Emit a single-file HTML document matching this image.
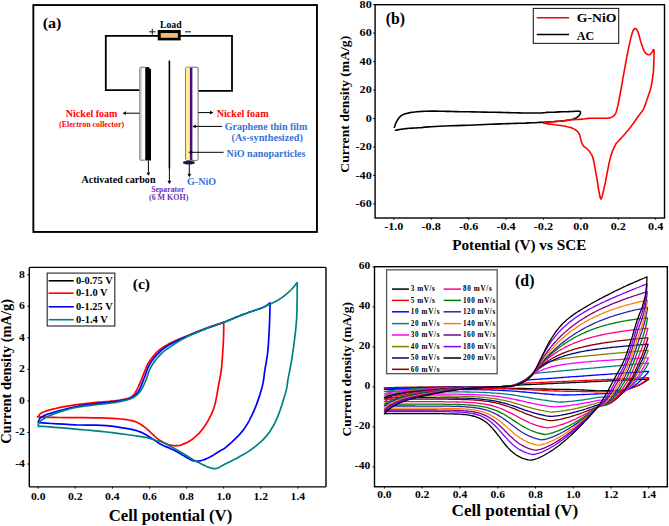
<!DOCTYPE html>
<html><head><meta charset="utf-8"><style>
html,body{margin:0;padding:0;background:#fff;}
svg{display:block;}
text{font-family:"Liberation Serif",serif;font-weight:bold;}
</style></head><body>
<svg width="669" height="526" viewBox="0 0 669 526">
<rect width="669" height="526" fill="#fff"/>
<rect x="33.35" y="5.05" width="283.6" height="226.9" fill="none" stroke="#000" stroke-width="1.9"/>
<text x="42.7" y="27.5" font-size="15.3" fill="#000" textLength="18.8" lengthAdjust="spacingAndGlyphs">(a)</text>
<path d="M139.5,90.1 H105.8 V35.9 H232 V90.8 H198.3" fill="none" stroke="#000" stroke-width="1.8"/>
<rect x="157.7" y="30.0" width="23.0" height="10.4" fill="#000"/>
<rect x="160.7" y="33.0" width="17.2" height="4.8" fill="#f7b677"/>
<text x="160.0" y="28.1" font-size="10" fill="#000" textLength="21.6" lengthAdjust="spacingAndGlyphs">Load</text>
<line x1="149.1" y1="31.8" x2="155.5" y2="31.8" stroke="#222" stroke-width="1.1"/>
<line x1="152.3" y1="28.8" x2="152.3" y2="34.8" stroke="#222" stroke-width="1.1"/>
<line x1="185.0" y1="31.8" x2="191.0" y2="31.8" stroke="#222" stroke-width="1.1"/>
<rect x="139.8" y="67.2" width="5.8" height="93.0" fill="#fff" stroke="#707070" stroke-width="1" rx="1.2"/>
<rect x="140.3" y="67.7" width="1.3" height="92.0" fill="#b8b8b8"/>
<polygon points="145.5,66.9 148.3,66.9 151.0,69.6 151.0,160.6 145.5,160.6" fill="#000"/>
<line x1="169.4" y1="60.6" x2="169.4" y2="168.3" stroke="#000" stroke-width="1.6"/>
<line x1="169.4" y1="168" x2="169.4" y2="180.79999999999998" stroke="#000" stroke-width="1.0"/>
<polygon points="169.4,184.2 167.50,180.80 171.30,180.80" fill="#000"/>
<rect x="185.6" y="67.2" width="12.5" height="93.2" fill="#fff" stroke="#707070" stroke-width="1" rx="1.2"/>
<rect x="186.1" y="67.7" width="3.8" height="92.3" fill="#fff08a"/>
<rect x="189.9" y="67.7" width="2.5" height="92.3" fill="#4a0b8f"/>
<polygon points="196.5,66.7 198.6,69.2 198.6,70 196.5,67.7" fill="#888"/>
<ellipse cx="188.9" cy="162.7" rx="6" ry="1.9" fill="#0c1c3a"/>
<line x1="139.4" y1="113.2" x2="126.0" y2="113.2" stroke="#000" stroke-width="1.0"/>
<polygon points="122.6,113.2 126.00,111.30 126.00,115.10" fill="#000"/>
<line x1="148.4" y1="160.6" x2="148.4" y2="172.4" stroke="#000" stroke-width="1.0"/>
<polygon points="148.4,175.8 146.50,172.40 150.30,172.40" fill="#000"/>
<line x1="189.3" y1="164.4" x2="189.3" y2="173.79999999999998" stroke="#000" stroke-width="1.0"/>
<polygon points="189.3,177.2 187.40,173.80 191.20,173.80" fill="#000"/>
<line x1="198.3" y1="112.6" x2="210.0" y2="112.6" stroke="#000" stroke-width="1.0"/>
<polygon points="213.4,112.6 210.00,114.50 210.00,110.70" fill="#000"/>
<line x1="222.2" y1="126.4" x2="195.8" y2="126.4" stroke="#000" stroke-width="1.0"/>
<polygon points="192.4,126.4 195.80,124.50 195.80,128.30" fill="#000"/>
<line x1="223.6" y1="152.3" x2="191.8" y2="152.3" stroke="#000" stroke-width="1.0"/>
<polygon points="188.4,152.3 191.80,150.40 191.80,154.20" fill="#000"/>
<text x="65.8" y="116.9" font-size="11" fill="#ff0000" textLength="51.7" lengthAdjust="spacingAndGlyphs">Nickel foam</text>
<text x="59.1" y="127.1" font-size="8" fill="#ff0000" textLength="65.0" lengthAdjust="spacingAndGlyphs">(Electron collector)</text>
<text x="81.4" y="183.2" font-size="10.5" fill="#000" textLength="74.1" lengthAdjust="spacingAndGlyphs">Activated carbon</text>
<text x="151.3" y="192.0" font-size="7.5" fill="#7330b8" textLength="33.1" lengthAdjust="spacingAndGlyphs">Separator</text>
<text x="149.0" y="200.2" font-size="7.8" fill="#7330b8" textLength="39.3" lengthAdjust="spacingAndGlyphs">(6 M KOH)</text>
<text x="187.0" y="185.1" font-size="11" fill="#3772d6" textLength="29.1" lengthAdjust="spacingAndGlyphs">G-NiO</text>
<text x="216.7" y="116.8" font-size="11" fill="#ff0000" textLength="51.9" lengthAdjust="spacingAndGlyphs">Nickel foam</text>
<text x="224.7" y="130.2" font-size="10.5" fill="#3772d6" textLength="82.6" lengthAdjust="spacingAndGlyphs">Graphene thin film</text>
<text x="231.5" y="141.2" font-size="10.5" fill="#3772d6" textLength="71.3" lengthAdjust="spacingAndGlyphs">(As-synthesized)</text>
<text x="226.6" y="156.5" font-size="10.5" fill="#3772d6" textLength="78.9" lengthAdjust="spacingAndGlyphs">NiO nanoparticles</text>
<path d="M394.4,127.3 L394.5,126.8 L394.8,126.1 L395.1,125.2 L395.4,124.2 L395.8,123.3 L396.2,122.3 L396.7,121.4 L397.3,120.4 L397.9,119.4 L398.5,118.5 L399.2,117.6 L400.0,116.8 L400.7,116.1 L401.4,115.6 L402.2,115.1 L403.1,114.6 L404.1,114.2 L405.2,113.8 L406.6,113.4 L408.1,113.1 L409.7,112.7 L411.4,112.4 L413.2,112.2 L414.9,112.0 L416.8,111.8 L418.7,111.6 L420.6,111.5 L422.5,111.4 L424.4,111.3 L426.2,111.2 L427.7,111.2 L429.2,111.1 L430.6,111.1 L431.9,111.1 L433.4,111.1 L435.0,111.1 L436.6,111.1 L438.1,111.2 L439.7,111.2 L441.5,111.3 L443.6,111.3 L446.2,111.4 L449.2,111.4 L452.5,111.5 L456.1,111.6 L460.1,111.7 L464.2,111.7 L468.6,111.8 L473.5,111.9 L478.8,112.0 L484.4,112.1 L489.9,112.2 L495.2,112.3 L500.1,112.4 L504.3,112.5 L508.3,112.6 L512.0,112.7 L515.6,112.8 L519.0,112.9 L522.3,113.0 L525.6,113.0 L528.9,113.0 L532.0,113.0 L535.0,113.0 L537.7,113.0 L540.1,113.0 L542.0,112.9 L543.3,112.8 L544.4,112.7 L545.6,112.5 L547.0,112.4 L549.1,112.3 L551.9,112.2 L555.3,112.1 L559.0,111.9 L562.7,111.8 L566.2,111.7 L569.1,111.6 L571.4,111.5 L573.5,111.4 L575.3,111.2 L576.8,111.2 L578.1,111.1 L579.2,111.2 L579.9,111.4 L580.3,111.6 L580.5,112.0 L580.5,112.4 L580.4,112.7 L580.4,113.1 L580.4,113.4 L580.2,113.8 L580.0,114.2 L579.8,114.5 L579.5,114.9 L579.2,115.3 L578.9,115.7 L578.5,116.1 L578.1,116.5 L577.7,116.9 L577.2,117.2 L576.6,117.6 L575.9,118.0 L575.2,118.3 L574.3,118.7 L573.4,119.0 L572.4,119.3 L571.3,119.6 L570.1,119.9 L568.7,120.1 L567.2,120.3 L565.6,120.5 L564.0,120.7 L562.4,120.9 L560.6,121.1 L558.8,121.2 L556.9,121.4 L554.9,121.5 L553.0,121.7 L551.1,121.8 L549.4,121.9 L547.7,122.0 L546.0,122.1 L544.3,122.2 L542.3,122.3 L540.1,122.4 L537.6,122.5 L534.8,122.7 L531.9,122.8 L528.8,122.9 L525.6,123.1 L522.3,123.2 L519.0,123.3 L515.6,123.4 L512.0,123.5 L508.3,123.6 L504.3,123.8 L500.1,123.9 L495.4,124.1 L490.3,124.3 L485.1,124.5 L479.6,124.7 L474.1,125.0 L468.6,125.2 L462.9,125.4 L456.9,125.6 L450.8,125.8 L445.0,126.0 L439.6,126.3 L435.0,126.5 L431.2,126.7 L428.1,126.9 L425.4,127.1 L423.1,127.4 L420.9,127.6 L418.7,127.7 L416.5,127.9 L414.4,128.0 L412.5,128.1 L410.7,128.2 L409.1,128.3 L407.5,128.5 L406.0,128.6 L404.6,128.8 L403.3,129.0 L402.1,129.1 L401.0,129.3 L400.0,129.5 L399.0,129.6 L398.1,129.8 L397.3,129.9 L396.5,130.1 L395.9,130.2 L395.5,130.3" fill="none" stroke="#000" stroke-width="1.6" stroke-linejoin="round" stroke-linecap="round"/>
<path d="M543.5,123.2 L544.2,123.1 L545.3,122.9 L546.6,122.6 L548.0,122.4 L549.6,122.1 L551.1,121.9 L552.8,121.7 L554.7,121.6 L556.7,121.4 L558.6,121.3 L560.6,121.2 L562.4,121.0 L564.0,120.8 L565.5,120.6 L567.0,120.4 L568.4,120.1 L569.9,119.9 L571.3,119.8 L572.8,119.7 L574.3,119.6 L575.8,119.5 L577.3,119.5 L578.9,119.4 L580.4,119.3 L582.0,119.1 L583.6,119.0 L585.2,118.8 L586.8,118.6 L588.4,118.4 L590.0,118.3 L591.7,118.2 L593.3,118.2 L594.9,118.2 L596.6,118.2 L598.1,118.2 L599.6,118.2 L601.0,118.2 L602.3,118.3 L603.6,118.3 L604.8,118.3 L606.0,118.3 L607.1,118.2 L608.1,118.1 L609.0,118.0 L609.9,117.8 L610.8,117.6 L611.5,117.3 L612.3,116.9 L613.0,116.5 L613.6,116.0 L614.3,115.4 L614.8,114.7 L615.3,113.8 L615.9,112.8 L616.3,111.6 L616.7,110.3 L617.1,108.9 L617.5,107.3 L617.9,105.6 L618.3,103.7 L618.7,101.7 L619.1,99.7 L619.5,97.5 L619.9,95.1 L620.4,92.5 L620.9,89.8 L621.5,86.7 L622.1,83.3 L622.7,79.7 L623.3,76.1 L624.0,72.4 L624.6,68.8 L625.3,65.3 L625.9,61.7 L626.6,58.1 L627.3,54.6 L627.9,51.2 L628.6,48.1 L629.2,45.1 L629.9,42.2 L630.5,39.4 L631.1,36.9 L631.7,34.7 L632.3,32.8 L632.8,31.4 L633.3,30.3 L633.8,29.5 L634.2,29.0 L634.7,28.7 L635.1,28.6 L635.6,28.6 L636.0,28.8 L636.5,29.3 L637.0,29.9 L637.4,30.8 L637.9,31.8 L638.4,33.2 L638.9,34.8 L639.4,36.6 L639.9,38.6 L640.4,40.5 L640.9,42.2 L641.5,43.9 L642.1,45.7 L642.7,47.5 L643.4,49.1 L644.0,50.6 L644.7,51.8 L645.3,52.7 L645.9,53.4 L646.6,53.9 L647.2,54.3 L647.8,54.6 L648.4,54.7 L648.9,54.8 L649.4,54.7 L649.9,54.5 L650.3,54.1 L650.8,53.7 L651.2,53.3 L651.7,52.7 L652.2,51.9 L652.7,51.0 L653.1,50.3 L653.5,49.7 L653.8,49.6 L654.0,50.0 L654.1,50.8 L654.1,51.8 L654.1,52.9 L654.0,54.1 L654.0,55.2 L654.0,56.1 L654.0,57.0 L654.0,57.9 L653.9,58.8 L653.9,60.0 L653.8,61.3 L653.8,62.9 L653.7,64.6 L653.7,66.5 L653.6,68.5 L653.5,70.6 L653.3,72.7 L653.0,74.8 L652.7,77.1 L652.4,79.5 L652.0,81.8 L651.6,84.0 L651.2,86.1 L650.8,87.8 L650.4,89.3 L650.0,90.7 L649.5,92.2 L649.0,93.7 L648.4,95.4 L647.7,97.6 L646.9,100.0 L646.0,102.5 L645.2,104.9 L644.3,107.1 L643.5,109.0 L642.9,110.2 L642.5,110.9 L642.1,111.5 L641.6,112.0 L640.9,112.8 L639.8,114.2 L638.3,116.3 L636.5,118.8 L634.5,121.7 L632.4,124.6 L630.3,127.4 L628.4,129.9 L626.5,132.1 L624.7,134.3 L622.8,136.3 L621.1,138.2 L619.5,139.9 L618.3,141.3 L617.4,142.2 L616.8,142.8 L616.5,143.1 L616.2,143.4 L615.9,143.9 L615.5,144.7 L614.9,145.8 L614.3,147.1 L613.6,148.6 L612.9,150.2 L612.3,151.8 L611.7,153.4 L611.2,154.8 L610.8,156.2 L610.4,157.6 L610.0,159.1 L609.6,160.9 L609.1,163.0 L608.6,165.7 L608.0,168.7 L607.3,172.0 L606.7,175.3 L606.1,178.5 L605.6,181.3 L605.1,183.7 L604.6,185.9 L604.2,188.0 L603.7,189.9 L603.3,191.6 L602.9,193.2 L602.6,194.7 L602.2,196.1 L601.9,197.3 L601.5,198.2 L601.2,198.9 L600.9,199.0 L600.6,198.8 L600.3,198.1 L600.1,197.1 L599.8,195.8 L599.5,194.3 L599.2,192.5 L598.8,190.4 L598.4,188.0 L598.0,185.3 L597.6,182.5 L597.1,179.6 L596.6,176.7 L596.0,173.6 L595.4,170.3 L594.8,166.9 L594.2,163.6 L593.6,160.7 L593.0,158.3 L592.5,156.6 L592.0,155.4 L591.6,154.6 L591.1,153.9 L590.7,153.3 L590.2,152.7 L589.8,151.9 L589.3,151.3 L588.9,150.8 L588.4,150.3 L587.9,149.8 L587.4,149.2 L586.8,148.7 L586.2,148.2 L585.5,147.7 L584.8,147.2 L584.2,146.6 L583.7,146.1 L583.2,145.6 L582.8,145.0 L582.5,144.4 L582.2,143.8 L581.9,143.2 L581.6,142.5 L581.4,141.8 L581.1,141.0 L580.9,140.1 L580.7,139.3 L580.5,138.4 L580.3,137.7 L580.2,137.1 L580.1,136.5 L580.0,136.0 L580.0,135.5 L579.8,135.0 L579.6,134.4 L579.2,133.8 L578.8,133.2 L578.3,132.5 L577.8,131.8 L577.2,131.2 L576.6,130.6 L575.9,130.1 L575.1,129.5 L574.3,129.1 L573.4,128.6 L572.4,128.2 L571.3,127.7 L570.1,127.4 L568.7,127.0 L567.2,126.7 L565.6,126.3 L564.0,126.0 L562.4,125.8 L560.6,125.5 L558.6,125.2 L556.7,125.0 L554.7,124.8 L552.8,124.5 L551.1,124.3 L549.6,124.1 L548.0,123.9 L546.6,123.7 L545.3,123.5 L544.2,123.3 L543.5,123.2" fill="none" stroke="#ff0000" stroke-width="1.6" stroke-linejoin="round" stroke-linecap="round"/>
<rect x="375.1" y="4.7" width="289.4" height="213.3" fill="none" stroke="#000" stroke-width="1.4"/>
<line x1="373.2" y1="4.659999999999997" x2="375.1" y2="4.659999999999997" stroke="#000" stroke-width="1"/>
<text x="371.8" y="7.96" font-size="10.5" fill="#000" text-anchor="end" textLength="12.18" lengthAdjust="spacingAndGlyphs">80</text>
<line x1="373.2" y1="33.120000000000005" x2="375.1" y2="33.120000000000005" stroke="#000" stroke-width="1"/>
<text x="371.8" y="36.42" font-size="10.5" fill="#000" text-anchor="end" textLength="12.18" lengthAdjust="spacingAndGlyphs">60</text>
<line x1="373.2" y1="61.58" x2="375.1" y2="61.58" stroke="#000" stroke-width="1"/>
<text x="371.8" y="64.88" font-size="10.5" fill="#000" text-anchor="end" textLength="12.18" lengthAdjust="spacingAndGlyphs">40</text>
<line x1="373.2" y1="90.03999999999999" x2="375.1" y2="90.03999999999999" stroke="#000" stroke-width="1"/>
<text x="371.8" y="93.34" font-size="10.5" fill="#000" text-anchor="end" textLength="12.18" lengthAdjust="spacingAndGlyphs">20</text>
<line x1="373.2" y1="118.5" x2="375.1" y2="118.5" stroke="#000" stroke-width="1"/>
<text x="371.8" y="121.8" font-size="10.5" fill="#000" text-anchor="end" textLength="6.09" lengthAdjust="spacingAndGlyphs">0</text>
<line x1="373.2" y1="146.96" x2="375.1" y2="146.96" stroke="#000" stroke-width="1"/>
<text x="371.8" y="150.26" font-size="10.5" fill="#000" text-anchor="end" textLength="16.24" lengthAdjust="spacingAndGlyphs">-20</text>
<line x1="373.2" y1="175.42000000000002" x2="375.1" y2="175.42000000000002" stroke="#000" stroke-width="1"/>
<text x="371.8" y="178.72" font-size="10.5" fill="#000" text-anchor="end" textLength="16.24" lengthAdjust="spacingAndGlyphs">-40</text>
<line x1="373.2" y1="203.88" x2="375.1" y2="203.88" stroke="#000" stroke-width="1"/>
<text x="371.8" y="207.18" font-size="10.5" fill="#000" text-anchor="end" textLength="16.24" lengthAdjust="spacingAndGlyphs">-60</text>
<line x1="393.8" y1="218.0" x2="393.8" y2="219.7" stroke="#000" stroke-width="1"/>
<text x="393.8" y="229.9" font-size="10.5" fill="#000" text-anchor="middle" textLength="19.28" lengthAdjust="spacingAndGlyphs">-1.0</text>
<line x1="431.214" y1="218.0" x2="431.214" y2="219.7" stroke="#000" stroke-width="1"/>
<text x="431.21" y="229.9" font-size="10.5" fill="#000" text-anchor="middle" textLength="19.28" lengthAdjust="spacingAndGlyphs">-0.8</text>
<line x1="468.62800000000004" y1="218.0" x2="468.62800000000004" y2="219.7" stroke="#000" stroke-width="1"/>
<text x="468.63" y="229.9" font-size="10.5" fill="#000" text-anchor="middle" textLength="19.28" lengthAdjust="spacingAndGlyphs">-0.6</text>
<line x1="506.04200000000003" y1="218.0" x2="506.04200000000003" y2="219.7" stroke="#000" stroke-width="1"/>
<text x="506.04" y="229.9" font-size="10.5" fill="#000" text-anchor="middle" textLength="19.28" lengthAdjust="spacingAndGlyphs">-0.4</text>
<line x1="543.456" y1="218.0" x2="543.456" y2="219.7" stroke="#000" stroke-width="1"/>
<text x="543.46" y="229.9" font-size="10.5" fill="#000" text-anchor="middle" textLength="19.28" lengthAdjust="spacingAndGlyphs">-0.2</text>
<line x1="580.87" y1="218.0" x2="580.87" y2="219.7" stroke="#000" stroke-width="1"/>
<text x="580.87" y="229.9" font-size="10.5" fill="#000" text-anchor="middle" textLength="15.22" lengthAdjust="spacingAndGlyphs">0.0</text>
<line x1="618.2840000000001" y1="218.0" x2="618.2840000000001" y2="219.7" stroke="#000" stroke-width="1"/>
<text x="618.28" y="229.9" font-size="10.5" fill="#000" text-anchor="middle" textLength="15.22" lengthAdjust="spacingAndGlyphs">0.2</text>
<line x1="655.6980000000001" y1="218.0" x2="655.6980000000001" y2="219.7" stroke="#000" stroke-width="1"/>
<text x="655.7" y="229.9" font-size="10.5" fill="#000" text-anchor="middle" textLength="15.22" lengthAdjust="spacingAndGlyphs">0.4</text>
<text x="452.2" y="250.0" font-size="14" fill="#000" textLength="134.2" lengthAdjust="spacingAndGlyphs">Potential (V) vs SCE</text>
<text transform="translate(349.4,172.7) rotate(-90)" font-size="13.5" fill="#000" textLength="136.9" lengthAdjust="spacingAndGlyphs">Current density (mA/g)</text>
<text x="385.7" y="24.2" font-size="16.4" fill="#000" textLength="19.3" lengthAdjust="spacingAndGlyphs">(b)</text>
<rect x="533.3" y="8.4" width="85.4" height="35.0" fill="#fff" stroke="#222" stroke-width="1.1"/>
<line x1="536.7" y1="17.8" x2="569" y2="17.8" stroke="#ff0000" stroke-width="1.5"/>
<line x1="536.7" y1="34.5" x2="569" y2="34.5" stroke="#000" stroke-width="1.5"/>
<text x="576.8" y="22.3" font-size="13" fill="#000" textLength="39.6" lengthAdjust="spacingAndGlyphs">G-NiO</text>
<text x="576.8" y="39.6" font-size="13" fill="#000" textLength="17.4" lengthAdjust="spacingAndGlyphs">AC</text>
<path d="M38.2,416.7 L38.5,416.2 L38.8,415.7 L39.2,415.0 L39.8,414.2 L40.7,413.5 L41.9,412.7 L43.5,412.0 L45.3,411.3 L47.3,410.6 L49.7,409.9 L52.4,409.2 L55.5,408.5 L59.0,407.7 L63.0,406.9 L67.4,406.2 L72.0,405.4 L76.5,404.7 L80.9,404.1 L85.2,403.5 L89.8,403.0 L94.3,402.6 L98.7,402.2 L102.7,401.9 L106.3,401.5 L109.2,401.3 L111.7,401.0 L113.9,400.9 L115.9,400.7 L117.8,400.4 L119.8,400.1 L121.9,399.7 L124.0,399.4 L126.1,398.9 L128.0,398.4 L129.8,397.8 L131.3,397.0 L132.6,396.0 L133.7,395.0 L134.6,393.8 L135.4,392.5 L136.2,391.0 L137.1,389.4 L138.0,387.5 L139.0,385.4 L139.9,383.1 L140.9,380.8 L141.9,378.4 L142.8,376.1 L143.7,373.9 L144.6,371.6 L145.5,369.3 L146.4,367.1 L147.4,364.9 L148.6,362.7 L149.9,360.7 L151.4,358.6 L153.0,356.6 L154.6,354.7 L156.3,352.9 L158.0,351.2 L159.7,349.7 L161.4,348.4 L163.2,347.2 L165.1,346.0 L167.1,344.9 L169.3,343.6 L171.9,342.4 L174.6,341.1 L177.5,339.9 L180.5,338.6 L183.6,337.3 L186.6,336.1 L189.7,334.8 L192.8,333.5 L196.0,332.2 L199.2,330.9 L202.4,329.7 L205.5,328.5 L208.8,327.3 L212.3,326.1 L215.8,324.9 L219.0,323.9 L221.7,323.0 L223.7,322.3 L223.7,323.9 L223.7,325.9 L223.7,328.4 L223.7,331.2 L223.6,334.4 L223.5,338.0 L223.3,342.1 L223.1,346.9 L222.7,352.1 L222.4,357.4 L222.0,362.3 L221.7,366.5 L221.3,369.9 L220.9,372.8 L220.5,375.3 L220.0,377.7 L219.5,380.4 L218.9,383.5 L218.2,387.3 L217.5,391.4 L216.8,395.7 L215.9,400.1 L215.0,404.2 L213.9,408.0 L212.6,411.4 L211.2,414.7 L209.7,417.7 L208.1,420.6 L206.5,423.4 L204.8,426.0 L203.0,428.4 L201.2,430.7 L199.4,432.9 L197.4,434.8 L195.5,436.6 L193.6,438.3 L191.7,439.7 L189.6,441.0 L187.6,442.2 L185.6,443.1 L183.8,443.9 L182.3,444.6 L181.2,445.1 L180.4,445.3 L179.8,445.5 L179.3,445.5 L178.8,445.5 L178.3,445.5 L177.6,445.6 L177.1,445.7 L176.5,445.7 L175.9,445.8 L175.3,445.7 L174.5,445.7 L173.7,445.6 L172.8,445.5 L171.8,445.4 L170.8,445.2 L169.9,445.0 L169.0,444.8 L168.2,444.5 L167.5,444.3 L166.9,444.0 L166.2,443.7 L165.4,443.3 L164.5,442.9 L163.5,442.4 L162.5,441.8 L161.3,441.3 L160.1,440.5 L158.7,439.6 L157.1,438.4 L155.3,436.9 L153.2,434.9 L151.0,432.8 L148.8,430.6 L146.5,428.6 L144.3,426.9 L142.3,425.5 L140.6,424.3 L138.8,423.2 L136.8,422.2 L134.5,421.4 L131.7,420.6 L128.4,420.0 L124.8,419.4 L120.8,419.0 L116.5,418.6 L111.6,418.4 L106.3,418.1 L100.0,417.9 L92.8,417.8 L85.0,417.7 L77.3,417.7 L70.2,417.7 L64.0,417.6 L58.7,417.5 L53.8,417.4 L49.5,417.3 L45.7,417.2 L42.6,417.1 L40.1,417.0 L38.4,416.9 L37.7,416.9 L37.6,416.8 L37.9,416.7 L38.1,416.7 L38.2,416.7" fill="none" stroke="#ff0000" stroke-width="1.7" stroke-linejoin="round" stroke-linecap="round"/>
<path d="M38.2,421.9 L38.5,421.3 L38.8,420.5 L39.2,419.6 L39.8,418.6 L40.7,417.6 L41.9,416.7 L43.5,415.9 L45.3,415.1 L47.3,414.3 L49.7,413.5 L52.4,412.7 L55.5,411.8 L59.0,410.8 L63.0,409.7 L67.4,408.6 L72.0,407.5 L76.5,406.5 L80.9,405.6 L85.2,404.9 L89.8,404.3 L94.3,403.8 L98.7,403.3 L102.7,402.9 L106.3,402.5 L109.2,402.1 L111.7,401.9 L113.9,401.7 L115.9,401.5 L117.8,401.2 L119.8,400.9 L121.9,400.5 L124.0,400.1 L126.0,399.6 L127.9,399.1 L129.7,398.5 L131.3,397.7 L132.8,396.9 L134.1,396.1 L135.2,395.2 L136.3,394.1 L137.3,392.9 L138.4,391.4 L139.4,389.7 L140.3,387.8 L141.2,385.6 L142.1,383.4 L143.0,381.1 L143.9,378.8 L144.8,376.5 L145.7,374.1 L146.5,371.7 L147.4,369.2 L148.4,366.9 L149.5,364.6 L150.8,362.5 L152.2,360.4 L153.8,358.3 L155.4,356.4 L157.1,354.5 L158.8,352.8 L160.5,351.2 L162.1,349.7 L163.9,348.4 L165.7,347.0 L167.7,345.8 L169.9,344.4 L172.3,343.1 L175.0,341.8 L177.8,340.4 L180.7,339.1 L183.6,337.8 L186.6,336.5 L189.6,335.2 L192.6,333.9 L195.8,332.6 L198.9,331.3 L202.0,330.0 L205.2,328.8 L208.2,327.7 L211.3,326.6 L214.4,325.6 L217.5,324.5 L220.6,323.5 L223.7,322.3 L226.7,321.2 L229.7,319.9 L232.7,318.7 L235.6,317.4 L238.7,316.2 L241.9,314.9 L245.3,313.7 L249.1,312.3 L252.9,311.0 L256.6,309.8 L259.9,308.6 L262.7,307.5 L264.8,306.5 L266.4,305.6 L267.7,304.8 L268.6,304.0 L269.4,303.4 L270.1,302.9 L270.0,304.5 L270.0,306.5 L270.0,309.0 L269.9,311.9 L269.8,315.2 L269.7,318.9 L269.5,323.2 L269.3,328.3 L269.0,333.8 L268.7,339.4 L268.4,344.6 L268.0,349.3 L267.6,353.4 L267.1,357.0 L266.5,360.4 L266.0,363.7 L265.4,366.8 L264.9,370.0 L264.4,373.1 L264.1,376.0 L263.7,378.8 L263.3,381.6 L262.7,384.6 L261.9,387.8 L260.9,391.3 L259.8,395.1 L258.5,398.9 L257.1,402.9 L255.7,406.7 L254.1,410.4 L252.5,413.9 L250.8,417.4 L249.1,420.8 L247.2,424.1 L245.2,427.3 L243.0,430.4 L240.5,433.4 L237.8,436.4 L234.9,439.2 L232.1,441.9 L229.5,444.2 L227.2,446.2 L225.4,447.7 L223.9,448.7 L222.6,449.5 L221.4,450.1 L220.3,450.7 L219.1,451.4 L217.8,452.2 L216.5,453.0 L215.3,453.9 L214.1,454.6 L212.9,455.4 L211.6,456.1 L210.4,456.8 L209.1,457.4 L207.9,458.0 L206.6,458.6 L205.4,459.1 L204.2,459.6 L203.1,460.0 L202.0,460.3 L201.0,460.6 L200.0,460.8 L199.0,461.0 L198.1,461.2 L197.3,461.2 L196.5,461.3 L195.8,461.2 L195.1,461.2 L194.4,461.0 L193.6,460.8 L192.8,460.6 L192.0,460.3 L191.2,459.9 L190.3,459.4 L189.4,459.0 L188.5,458.5 L187.5,458.0 L186.6,457.4 L185.7,456.9 L184.7,456.3 L183.6,455.6 L182.3,454.9 L180.8,454.0 L179.2,453.1 L177.4,452.1 L175.5,451.1 L173.6,450.1 L171.8,449.2 L169.8,448.3 L167.8,447.4 L165.8,446.6 L163.7,445.7 L161.8,444.8 L160.1,444.0 L158.6,443.1 L157.4,442.2 L156.2,441.4 L155.0,440.5 L153.6,439.5 L151.9,438.4 L150.0,437.3 L147.9,435.9 L145.7,434.6 L143.2,433.2 L140.2,431.9 L136.7,430.7 L132.5,429.7 L127.7,428.7 L122.4,427.8 L117.0,426.9 L111.5,426.2 L106.3,425.7 L101.2,425.3 L96.2,425.1 L91.3,425.1 L86.2,425.1 L81.1,425.0 L75.9,424.9 L70.1,424.6 L63.9,424.2 L57.5,423.9 L51.5,423.5 L46.4,423.1 L42.5,422.8 L40.0,422.6 L38.7,422.4 L38.2,422.2 L38.2,422.1 L38.3,422.0 L38.2,421.9" fill="none" stroke="#0000ff" stroke-width="1.7" stroke-linejoin="round" stroke-linecap="round"/>
<path d="M38.2,426.3 L38.3,425.8 L38.3,425.1 L38.4,424.3 L38.6,423.4 L39.1,422.4 L40.1,421.4 L41.3,420.4 L42.9,419.3 L44.7,418.2 L46.8,417.0 L49.3,415.8 L52.1,414.6 L55.3,413.4 L58.9,412.2 L62.7,410.9 L66.9,409.7 L71.3,408.5 L75.9,407.5 L80.9,406.6 L86.6,405.9 L92.5,405.2 L98.3,404.5 L103.6,404.0 L107.9,403.4 L111.3,403.0 L114.0,402.6 L116.1,402.3 L118.0,402.0 L119.8,401.6 L121.7,401.2 L123.7,400.7 L125.7,400.3 L127.6,399.7 L129.5,399.2 L131.2,398.5 L132.8,397.7 L134.3,396.9 L135.6,396.0 L136.9,395.1 L138.0,394.0 L139.1,392.8 L140.2,391.4 L141.3,389.9 L142.2,388.2 L143.1,386.4 L144.0,384.5 L144.9,382.5 L145.8,380.4 L146.7,378.2 L147.5,375.8 L148.3,373.3 L149.2,370.9 L150.2,368.5 L151.4,366.2 L152.7,364.0 L154.1,362.0 L155.6,359.9 L157.3,358.0 L158.9,356.1 L160.6,354.4 L162.3,352.7 L164.1,351.2 L165.8,349.8 L167.7,348.5 L169.7,347.1 L171.8,345.7 L174.0,344.2 L176.3,342.8 L178.7,341.3 L181.2,339.8 L183.9,338.4 L186.6,337.0 L189.5,335.6 L192.5,334.3 L195.6,332.9 L198.8,331.6 L202.0,330.4 L205.2,329.1 L208.2,327.9 L211.3,326.8 L214.4,325.7 L217.5,324.6 L220.6,323.5 L223.7,322.3 L226.7,321.1 L229.7,319.9 L232.7,318.7 L235.6,317.4 L238.7,316.2 L241.9,314.9 L245.2,313.7 L248.8,312.5 L252.4,311.3 L255.9,310.0 L259.4,308.8 L262.7,307.5 L265.7,306.2 L268.7,304.8 L271.6,303.5 L274.4,302.1 L277.0,300.7 L279.4,299.3 L281.5,297.9 L283.5,296.5 L285.2,295.1 L286.9,293.7 L288.4,292.3 L289.9,290.9 L291.4,289.5 L292.9,287.9 L294.2,286.2 L295.4,284.8 L296.4,283.5 L297.2,282.6 L297.2,284.0 L297.2,285.8 L297.2,288.0 L297.2,290.5 L297.2,293.5 L297.2,296.8 L297.1,300.5 L297.0,304.8 L297.0,309.4 L296.8,314.3 L296.6,319.3 L296.2,324.4 L295.7,329.8 L295.0,335.5 L294.3,341.5 L293.5,347.3 L292.7,352.9 L292.0,357.8 L291.3,362.3 L290.5,366.4 L289.8,370.2 L289.1,373.7 L288.5,376.9 L287.9,379.9 L287.5,382.4 L287.3,384.3 L287.1,385.9 L286.8,387.5 L286.4,389.6 L285.7,392.4 L284.6,396.1 L283.2,400.6 L281.7,405.4 L280.0,410.4 L278.3,415.1 L276.6,419.2 L274.9,422.8 L273.2,426.0 L271.4,429.0 L269.6,431.9 L267.6,434.6 L265.4,437.2 L263.1,439.7 L260.5,442.2 L257.8,444.4 L255.1,446.6 L252.3,448.7 L249.7,450.6 L247.0,452.4 L244.3,454.1 L241.5,455.6 L238.9,457.0 L236.4,458.4 L234.1,459.6 L232.0,460.7 L230.0,461.7 L228.2,462.6 L226.5,463.4 L225.0,464.1 L223.7,464.8 L222.6,465.4 L221.7,465.9 L221.0,466.4 L220.3,466.8 L219.7,467.1 L219.1,467.5 L218.4,467.8 L217.8,468.1 L217.2,468.3 L216.6,468.5 L216.0,468.7 L215.4,468.7 L214.6,468.7 L213.9,468.7 L213.2,468.6 L212.4,468.4 L211.6,468.2 L210.7,467.9 L209.9,467.7 L209.0,467.4 L208.2,467.1 L207.2,466.7 L206.1,466.2 L204.8,465.6 L203.2,464.9 L201.5,464.0 L199.6,463.1 L197.6,462.1 L195.6,461.1 L193.6,460.1 L191.8,459.0 L189.9,457.8 L188.0,456.5 L186.1,455.3 L184.2,454.1 L182.3,453.0 L180.5,451.9 L178.8,450.9 L177.1,449.9 L175.3,448.9 L173.6,447.9 L171.8,447.0 L169.8,445.9 L167.6,444.8 L165.4,443.8 L163.4,442.8 L161.5,441.9 L160.1,441.3 L159.2,441.0 L158.8,440.9 L158.7,441.0 L158.5,441.1 L158.1,441.2 L157.1,441.0 L155.8,440.6 L154.5,440.0 L152.9,439.4 L150.8,438.7 L148.0,437.9 L144.3,437.2 L139.3,436.4 L133.2,435.5 L126.4,434.5 L119.3,433.6 L112.5,432.7 L106.3,432.0 L100.8,431.4 L95.6,430.8 L90.6,430.4 L85.7,430.0 L80.8,429.6 L75.9,429.1 L70.6,428.7 L65.0,428.2 L59.5,427.7 L54.3,427.3 L49.7,426.9 L46.0,426.6 L43.3,426.4 L41.5,426.3 L40.2,426.3 L39.4,426.3 L38.8,426.3 L38.2,426.3" fill="none" stroke="#008080" stroke-width="1.7" stroke-linejoin="round" stroke-linecap="round"/>
<rect x="29.3" y="267.4" width="296.7" height="219.5" fill="none" stroke="#000" stroke-width="1.4" rx="0.8"/>
<line x1="27.4" y1="274.7" x2="29.3" y2="274.7" stroke="#000" stroke-width="1"/>
<text x="24.9" y="277.7" font-size="11" fill="#000" text-anchor="end" textLength="5.83" lengthAdjust="spacingAndGlyphs">8</text>
<line x1="27.4" y1="306.25" x2="29.3" y2="306.25" stroke="#000" stroke-width="1"/>
<text x="24.9" y="309.25" font-size="11" fill="#000" text-anchor="end" textLength="5.83" lengthAdjust="spacingAndGlyphs">6</text>
<line x1="27.4" y1="337.8" x2="29.3" y2="337.8" stroke="#000" stroke-width="1"/>
<text x="24.9" y="340.8" font-size="11" fill="#000" text-anchor="end" textLength="5.83" lengthAdjust="spacingAndGlyphs">4</text>
<line x1="27.4" y1="369.35" x2="29.3" y2="369.35" stroke="#000" stroke-width="1"/>
<text x="24.9" y="372.35" font-size="11" fill="#000" text-anchor="end" textLength="5.83" lengthAdjust="spacingAndGlyphs">2</text>
<line x1="27.4" y1="400.9" x2="29.3" y2="400.9" stroke="#000" stroke-width="1"/>
<text x="24.9" y="403.9" font-size="11" fill="#000" text-anchor="end" textLength="5.83" lengthAdjust="spacingAndGlyphs">0</text>
<line x1="27.4" y1="432.45" x2="29.3" y2="432.45" stroke="#000" stroke-width="1"/>
<text x="24.9" y="435.45" font-size="11" fill="#000" text-anchor="end" textLength="9.71" lengthAdjust="spacingAndGlyphs">-2</text>
<line x1="27.4" y1="464.0" x2="29.3" y2="464.0" stroke="#000" stroke-width="1"/>
<text x="24.9" y="467.0" font-size="11" fill="#000" text-anchor="end" textLength="9.71" lengthAdjust="spacingAndGlyphs">-4</text>
<line x1="38.2" y1="486.9" x2="38.2" y2="488.6" stroke="#000" stroke-width="1"/>
<text x="38.2" y="499.5" font-size="11" fill="#000" text-anchor="middle" textLength="14.58" lengthAdjust="spacingAndGlyphs">0.0</text>
<line x1="75.30000000000001" y1="486.9" x2="75.30000000000001" y2="488.6" stroke="#000" stroke-width="1"/>
<text x="75.3" y="499.5" font-size="11" fill="#000" text-anchor="middle" textLength="14.58" lengthAdjust="spacingAndGlyphs">0.2</text>
<line x1="112.4" y1="486.9" x2="112.4" y2="488.6" stroke="#000" stroke-width="1"/>
<text x="112.4" y="499.5" font-size="11" fill="#000" text-anchor="middle" textLength="14.58" lengthAdjust="spacingAndGlyphs">0.4</text>
<line x1="149.5" y1="486.9" x2="149.5" y2="488.6" stroke="#000" stroke-width="1"/>
<text x="149.5" y="499.5" font-size="11" fill="#000" text-anchor="middle" textLength="14.58" lengthAdjust="spacingAndGlyphs">0.6</text>
<line x1="186.60000000000002" y1="486.9" x2="186.60000000000002" y2="488.6" stroke="#000" stroke-width="1"/>
<text x="186.6" y="499.5" font-size="11" fill="#000" text-anchor="middle" textLength="14.58" lengthAdjust="spacingAndGlyphs">0.8</text>
<line x1="223.7" y1="486.9" x2="223.7" y2="488.6" stroke="#000" stroke-width="1"/>
<text x="223.7" y="499.5" font-size="11" fill="#000" text-anchor="middle" textLength="14.58" lengthAdjust="spacingAndGlyphs">1.0</text>
<line x1="260.8" y1="486.9" x2="260.8" y2="488.6" stroke="#000" stroke-width="1"/>
<text x="260.8" y="499.5" font-size="11" fill="#000" text-anchor="middle" textLength="14.58" lengthAdjust="spacingAndGlyphs">1.2</text>
<line x1="297.90000000000003" y1="486.9" x2="297.90000000000003" y2="488.6" stroke="#000" stroke-width="1"/>
<text x="297.9" y="499.5" font-size="11" fill="#000" text-anchor="middle" textLength="14.58" lengthAdjust="spacingAndGlyphs">1.4</text>
<text x="108.8" y="520.5" font-size="16" fill="#000" textLength="123.4" lengthAdjust="spacingAndGlyphs">Cell potential (V)</text>
<text transform="translate(11.3,443.8) rotate(-90)" font-size="14" fill="#000" textLength="144.8" lengthAdjust="spacingAndGlyphs">Current density (mA/g)</text>
<text x="132.7" y="289.0" font-size="15.3" fill="#000" textLength="17.4" lengthAdjust="spacingAndGlyphs">(c)</text>
<rect x="47.2" y="273.1" width="67.6" height="52.9" fill="#fff" stroke="#333" stroke-width="1.2"/>
<line x1="48.6" y1="280.8" x2="73.7" y2="280.8" stroke="#000" stroke-width="1.6"/>
<text x="75.9" y="283.8" font-size="9.3" fill="#000" textLength="36.8" lengthAdjust="spacingAndGlyphs">0-0.75 V</text>
<line x1="48.6" y1="293.2" x2="73.7" y2="293.2" stroke="#ff0000" stroke-width="1.6"/>
<text x="75.9" y="296.2" font-size="9.3" fill="#000" textLength="31.7" lengthAdjust="spacingAndGlyphs">0-1.0 V</text>
<line x1="48.6" y1="306.8" x2="73.7" y2="306.8" stroke="#0000ff" stroke-width="1.6"/>
<text x="75.9" y="309.8" font-size="9.3" fill="#000" textLength="36.8" lengthAdjust="spacingAndGlyphs">0-1.25 V</text>
<line x1="48.6" y1="319.7" x2="73.7" y2="319.7" stroke="#008080" stroke-width="1.6"/>
<text x="75.9" y="322.7" font-size="9.3" fill="#000" textLength="31.9" lengthAdjust="spacingAndGlyphs">0-1.4 V</text>
<path d="M384.4,387.9 L385.7,387.8 L387.1,387.8 L388.4,387.7 L389.7,387.7 L391.0,387.6 L392.4,387.6 L393.7,387.6 L395.0,387.5 L396.3,387.5 L397.7,387.5 L399.0,387.5 L400.3,387.4 L401.7,387.4 L403.0,387.4 L404.3,387.4 L405.6,387.4 L407.0,387.3 L408.3,387.3 L409.6,387.3 L410.9,387.3 L412.3,387.3 L413.6,387.3 L414.9,387.3 L416.2,387.3 L417.6,387.2 L418.9,387.2 L420.2,387.2 L421.6,387.2 L422.9,387.2 L424.2,387.2 L425.5,387.2 L426.9,387.2 L428.2,387.2 L429.5,387.1 L430.8,387.1 L432.2,387.1 L433.5,387.1 L434.8,387.1 L436.2,387.1 L437.5,387.1 L438.8,387.1 L440.1,387.1 L441.5,387.1 L442.8,387.0 L444.1,387.0 L445.4,387.0 L446.8,387.0 L448.1,387.0 L449.4,387.0 L450.8,387.0 L452.1,387.0 L453.4,387.0 L454.7,387.0 L456.1,387.0 L457.4,387.0 L458.7,387.0 L460.0,386.9 L461.4,386.9 L462.7,386.9 L464.0,386.9 L465.3,386.9 L466.7,386.9 L468.0,386.9 L469.3,386.9 L470.7,386.9 L472.0,386.9 L473.3,386.9 L474.6,386.9 L476.0,386.9 L477.3,386.9 L478.6,386.9 L479.9,386.9 L481.3,386.9 L482.6,386.9 L483.9,386.9 L485.3,386.9 L486.6,386.9 L487.9,386.9 L489.2,386.8 L490.6,386.8 L491.9,386.8 L493.2,386.8 L494.5,386.8 L495.9,386.7 L497.2,386.7 L498.5,386.7 L499.9,386.6 L501.2,386.6 L502.5,386.5 L503.8,386.5 L505.2,386.4 L506.5,386.3 L507.8,386.1 L509.1,386.0 L510.5,385.8 L511.8,385.7 L513.1,385.5 L514.5,385.4 L515.8,385.2 L517.1,385.1 L518.4,385.1 L519.8,385.0 L521.1,384.9 L522.4,384.9 L523.7,384.8 L525.1,384.7 L526.4,384.7 L527.7,384.6 L529.0,384.6 L530.4,384.5 L531.7,384.4 L533.0,384.4 L534.4,384.3 L535.7,384.3 L537.0,384.2 L538.3,384.1 L539.7,384.1 L541.0,384.0 L542.3,384.0 L543.6,383.9 L545.0,383.8 L546.3,383.8 L547.6,383.7 L549.0,383.7 L550.3,383.6 L551.6,383.5 L552.9,383.5 L554.3,383.4 L555.6,383.4 L556.9,383.3 L558.2,383.2 L559.6,383.2 L560.9,383.1 L562.2,383.1 L563.6,383.0 L564.9,382.9 L566.2,382.9 L567.5,382.8 L568.9,382.8 L570.2,382.7 L571.5,382.6 L572.8,382.6 L574.2,382.5 L575.5,382.5 L576.8,382.4 L578.1,382.3 L579.5,382.3 L580.8,382.2 L582.1,382.2 L583.5,382.1 L584.8,382.0 L586.1,382.0 L587.4,381.9 L588.8,381.9 L590.1,381.8 L591.4,381.7 L592.7,381.7 L594.1,381.6 L595.4,381.6 L596.7,381.5 L598.1,381.4 L599.4,381.4 L600.7,381.3 L602.0,381.2 L603.4,381.2 L604.7,381.1 L606.0,381.1 L607.3,381.0 L608.7,380.9 L610.0,380.9 L611.3,380.8 L612.7,380.8 L614.0,380.7 L615.3,380.6 L616.6,380.6 L618.0,380.5 L619.3,380.5 L620.6,380.4 L621.9,380.3 L623.3,380.3 L624.6,380.2 L625.9,380.2 L627.2,380.1 L628.6,380.0 L629.9,380.0 L631.2,379.9 L632.6,379.9 L633.9,379.8 L635.2,379.7 L636.5,379.7 L637.9,379.6 L639.2,379.6 L640.5,379.5 L641.8,379.4 L643.2,379.4 L644.5,379.3 L645.8,379.3 L647.2,379.2 L648.5,379.1 L648.9,379.1 L648.5,379.4 L648.1,379.7 L647.6,380.0 L647.2,380.3 L646.8,380.6 L646.4,380.9 L645.9,381.2 L645.5,381.5 L645.0,381.8 L644.5,382.1 L644.0,382.4 L643.5,382.7 L643.0,383.0 L642.5,383.3 L641.9,383.6 L641.4,383.9 L640.8,384.2 L640.2,384.5 L639.6,384.8 L639.0,385.1 L638.3,385.4 L637.6,385.7 L636.9,386.0 L636.1,386.3 L635.4,386.6 L634.5,386.9 L633.7,387.2 L632.7,387.5 L631.8,387.8 L630.7,388.1 L629.6,388.4 L628.3,388.7 L626.9,389.0 L625.4,389.3 L623.6,389.6 L621.5,389.9 L618.8,390.2 L614.9,390.5 L597.9,390.9 L597.0,390.8 L596.2,390.7 L595.4,390.7 L594.6,390.6 L593.7,390.6 L592.9,390.5 L592.1,390.5 L591.3,390.4 L590.4,390.4 L589.6,390.3 L588.8,390.3 L588.0,390.3 L587.2,390.2 L586.3,390.2 L585.5,390.1 L584.7,390.1 L583.9,390.0 L583.0,390.0 L582.2,390.0 L581.4,389.9 L580.6,389.9 L579.7,389.9 L578.9,389.8 L578.1,389.8 L577.3,389.8 L576.4,389.7 L575.6,389.7 L574.8,389.7 L574.0,389.6 L573.2,389.6 L572.3,389.6 L571.5,389.6 L570.7,389.5 L569.9,389.5 L569.0,389.5 L568.2,389.5 L567.4,389.5 L566.6,389.5 L565.7,389.5 L563.4,389.4 L561.2,389.4 L558.9,389.3 L556.6,389.3 L554.3,389.3 L552.0,389.2 L549.7,389.2 L547.4,389.1 L545.1,389.0 L542.8,389.0 L540.5,388.9 L538.2,388.9 L535.9,388.8 L533.6,388.8 L531.3,388.7 L529.0,388.6 L526.7,388.6 L524.4,388.5 L522.1,388.5 L519.8,388.4 L517.5,388.4 L515.2,388.3 L512.9,388.3 L510.7,388.2 L508.4,388.2 L506.1,388.2 L503.8,388.1 L501.5,388.1 L499.2,388.1 L496.9,388.1 L494.6,388.0 L492.3,388.0 L490.0,388.0 L487.7,388.0 L485.4,388.0 L483.1,388.0 L480.8,387.9 L478.5,387.9 L476.2,387.9 L473.9,387.9 L471.6,387.9 L469.3,387.9 L467.0,387.9 L464.7,387.9 L462.4,387.9 L460.2,387.9 L457.9,387.9 L455.6,387.9 L453.3,387.9 L451.0,387.9 L448.7,387.9 L446.4,387.9 L444.1,387.9 L441.8,387.9 L439.5,387.9 L437.2,387.9 L434.9,387.9 L432.6,387.9 L430.3,387.9 L428.0,387.9 L425.7,387.9 L423.4,387.9 L421.1,387.9 L418.8,387.9 L416.5,387.9 L414.2,387.9 L411.9,387.9 L409.7,387.9 L407.4,387.9 L405.1,387.9 L402.8,387.9 L400.5,387.9 L398.2,387.9 L395.9,387.9 L393.6,387.9 L391.3,387.9 L389.0,387.9 L386.7,387.9 L384.4,387.9" fill="none" stroke="#000000" stroke-width="1.3" stroke-linejoin="round" stroke-linecap="round"/>
<path d="M384.4,388.2 L385.7,388.1 L387.1,388.1 L388.4,388.0 L389.7,388.0 L391.0,387.9 L392.4,387.9 L393.7,387.8 L395.0,387.8 L396.3,387.8 L397.7,387.7 L399.0,387.7 L400.3,387.7 L401.7,387.6 L403.0,387.6 L404.3,387.6 L405.6,387.5 L407.0,387.5 L408.3,387.5 L409.6,387.5 L410.9,387.5 L412.3,387.5 L413.6,387.4 L414.9,387.4 L416.2,387.4 L417.6,387.4 L418.9,387.4 L420.2,387.4 L421.6,387.3 L422.9,387.3 L424.2,387.3 L425.5,387.3 L426.9,387.3 L428.2,387.3 L429.5,387.2 L430.8,387.2 L432.2,387.2 L433.5,387.2 L434.8,387.2 L436.2,387.2 L437.5,387.2 L438.8,387.2 L440.1,387.1 L441.5,387.1 L442.8,387.1 L444.1,387.1 L445.4,387.1 L446.8,387.1 L448.1,387.1 L449.4,387.1 L450.7,387.0 L452.1,387.0 L453.4,387.0 L454.7,387.0 L456.1,387.0 L457.4,387.0 L458.7,387.0 L460.0,387.0 L461.4,387.0 L462.7,387.0 L464.0,387.0 L465.3,387.0 L466.7,386.9 L468.0,386.9 L469.3,386.9 L470.7,386.9 L472.0,386.9 L473.3,386.9 L474.6,386.9 L476.0,386.9 L477.3,386.9 L478.6,386.9 L479.9,386.9 L481.3,386.9 L482.6,386.9 L483.9,386.9 L485.2,386.9 L486.6,386.9 L487.9,386.9 L489.2,386.8 L490.6,386.8 L491.9,386.8 L493.2,386.8 L494.5,386.8 L495.9,386.7 L497.2,386.7 L498.5,386.7 L499.8,386.6 L501.2,386.6 L502.5,386.5 L503.8,386.5 L505.2,386.4 L506.5,386.3 L507.8,386.2 L509.1,386.0 L510.5,385.8 L511.8,385.5 L513.1,385.2 L514.4,384.8 L515.8,384.5 L517.1,384.1 L518.4,383.8 L519.7,383.6 L521.1,383.4 L522.4,383.3 L523.7,383.2 L525.1,383.2 L526.4,383.1 L527.7,383.0 L529.0,383.0 L530.4,382.9 L531.7,382.9 L533.0,382.8 L534.3,382.7 L535.7,382.7 L537.0,382.6 L538.3,382.6 L539.7,382.5 L541.0,382.4 L542.3,382.4 L543.6,382.3 L545.0,382.3 L546.3,382.2 L547.6,382.2 L548.9,382.1 L550.3,382.0 L551.6,382.0 L552.9,381.9 L554.2,381.9 L555.6,381.8 L556.9,381.7 L558.2,381.7 L559.6,381.6 L560.9,381.6 L562.2,381.5 L563.5,381.4 L564.9,381.4 L566.2,381.3 L567.5,381.3 L568.8,381.2 L570.2,381.1 L571.5,381.1 L572.8,381.0 L574.2,381.0 L575.5,380.9 L576.8,380.9 L578.1,380.8 L579.5,380.7 L580.8,380.7 L582.1,380.6 L583.4,380.6 L584.8,380.5 L586.1,380.4 L587.4,380.4 L588.7,380.3 L590.1,380.3 L591.4,380.2 L592.7,380.1 L594.1,380.1 L595.4,380.0 L596.7,380.0 L598.0,379.9 L599.4,379.8 L600.7,379.8 L602.0,379.7 L603.3,379.7 L604.7,379.6 L606.0,379.6 L607.3,379.5 L608.7,379.4 L610.0,379.4 L611.3,379.3 L612.6,379.3 L614.0,379.2 L615.3,379.1 L616.6,379.1 L617.9,379.0 L619.3,379.0 L620.6,378.9 L621.9,378.8 L623.2,378.8 L624.6,378.7 L625.9,378.7 L627.2,378.6 L628.6,378.5 L629.9,378.5 L631.2,378.4 L632.5,378.4 L633.9,378.3 L635.2,378.3 L636.5,378.2 L637.8,378.1 L639.2,378.1 L640.5,378.0 L641.8,378.0 L643.2,377.9 L644.5,377.8 L645.8,377.8 L647.1,377.7 L648.5,377.7 L648.8,377.7 L648.4,378.0 L648.0,378.4 L647.6,378.8 L647.2,379.1 L646.7,379.5 L646.3,379.8 L645.8,380.2 L645.4,380.6 L644.9,380.9 L644.4,381.3 L643.9,381.7 L643.4,382.0 L642.8,382.4 L642.3,382.8 L641.7,383.1 L641.2,383.5 L640.6,383.8 L640.0,384.2 L639.3,384.6 L638.7,384.9 L638.0,385.3 L637.3,385.7 L636.6,386.0 L635.8,386.4 L635.0,386.8 L634.2,387.1 L633.3,387.5 L632.4,387.8 L631.4,388.2 L630.3,388.6 L629.1,388.9 L627.9,389.3 L626.5,389.7 L624.9,390.0 L623.1,390.4 L621.0,390.8 L618.3,391.1 L614.3,391.5 L597.9,391.8 L597.0,391.8 L596.1,391.8 L595.2,391.8 L594.4,391.8 L593.5,391.7 L592.6,391.7 L591.8,391.7 L590.9,391.7 L590.0,391.7 L589.1,391.6 L588.3,391.6 L587.4,391.6 L586.5,391.6 L585.7,391.6 L584.8,391.5 L583.9,391.5 L583.0,391.5 L582.2,391.5 L581.3,391.5 L580.4,391.5 L579.5,391.4 L578.7,391.4 L577.8,391.4 L576.9,391.4 L576.1,391.4 L575.2,391.4 L574.3,391.4 L573.4,391.3 L572.6,391.3 L571.7,391.3 L570.8,391.3 L570.0,391.3 L569.1,391.3 L568.2,391.3 L567.3,391.3 L566.5,391.3 L565.6,391.3 L564.7,391.3 L563.9,391.2 L561.6,391.2 L559.3,391.1 L557.0,391.0 L554.8,391.0 L552.5,390.9 L550.2,390.8 L548.0,390.7 L545.7,390.6 L543.4,390.5 L541.1,390.4 L538.9,390.3 L536.6,390.2 L534.3,390.1 L532.1,389.9 L529.8,389.8 L527.5,389.7 L525.2,389.6 L523.0,389.5 L520.7,389.4 L518.4,389.3 L516.2,389.2 L513.9,389.1 L511.6,389.1 L509.3,389.0 L507.1,388.9 L504.8,388.8 L502.5,388.8 L500.3,388.7 L498.0,388.7 L495.7,388.6 L493.4,388.6 L491.2,388.5 L488.9,388.5 L486.6,388.5 L484.3,388.4 L482.1,388.4 L479.8,388.4 L477.5,388.4 L475.3,388.4 L473.0,388.3 L470.7,388.3 L468.4,388.3 L466.2,388.3 L463.9,388.3 L461.6,388.3 L459.4,388.3 L457.1,388.3 L454.8,388.3 L452.5,388.3 L450.3,388.2 L448.0,388.2 L445.7,388.2 L443.5,388.2 L441.2,388.2 L438.9,388.2 L436.6,388.2 L434.4,388.2 L432.1,388.2 L429.8,388.2 L427.6,388.2 L425.3,388.2 L423.0,388.2 L420.7,388.2 L418.5,388.2 L416.2,388.2 L413.9,388.2 L411.7,388.2 L409.4,388.2 L407.1,388.2 L404.8,388.2 L402.6,388.2 L400.3,388.2 L398.0,388.2 L395.8,388.2 L393.5,388.2 L391.2,388.2 L388.9,388.2 L386.7,388.2 L384.4,388.2" fill="none" stroke="#ff0000" stroke-width="1.3" stroke-linejoin="round" stroke-linecap="round"/>
<path d="M384.4,389.3 L385.7,389.2 L387.1,389.1 L388.4,389.0 L389.7,388.9 L391.0,388.8 L392.4,388.7 L393.7,388.6 L395.0,388.6 L396.3,388.5 L397.7,388.4 L399.0,388.4 L400.3,388.3 L401.6,388.3 L403.0,388.2 L404.3,388.2 L405.6,388.1 L407.0,388.1 L408.3,388.0 L409.6,388.0 L410.9,388.0 L412.3,387.9 L413.6,387.9 L414.9,387.9 L416.2,387.8 L417.6,387.8 L418.9,387.8 L420.2,387.8 L421.5,387.7 L422.9,387.7 L424.2,387.7 L425.5,387.7 L426.9,387.6 L428.2,387.6 L429.5,387.6 L430.8,387.6 L432.2,387.5 L433.5,387.5 L434.8,387.5 L436.1,387.5 L437.5,387.4 L438.8,387.4 L440.1,387.4 L441.4,387.4 L442.8,387.3 L444.1,387.3 L445.4,387.3 L446.8,387.3 L448.1,387.2 L449.4,387.2 L450.7,387.2 L452.1,387.2 L453.4,387.2 L454.7,387.1 L456.0,387.1 L457.4,387.1 L458.7,387.1 L460.0,387.1 L461.3,387.1 L462.7,387.1 L464.0,387.0 L465.3,387.0 L466.7,387.0 L468.0,387.0 L469.3,387.0 L470.6,387.0 L472.0,387.0 L473.3,387.0 L474.6,387.0 L475.9,386.9 L477.3,386.9 L478.6,386.9 L479.9,386.9 L481.2,386.9 L482.6,386.9 L483.9,386.9 L485.2,386.9 L486.5,386.9 L487.9,386.9 L489.2,386.9 L490.5,386.8 L491.9,386.8 L493.2,386.8 L494.5,386.8 L495.8,386.7 L497.2,386.7 L498.5,386.7 L499.8,386.6 L501.1,386.6 L502.5,386.5 L503.8,386.5 L505.1,386.4 L506.4,386.3 L507.8,386.2 L509.1,386.0 L510.4,385.9 L511.8,385.6 L513.1,385.3 L514.4,384.9 L515.7,384.4 L517.1,383.8 L518.4,383.2 L519.7,382.6 L521.0,382.0 L522.4,381.4 L523.7,381.0 L525.0,380.6 L526.3,380.3 L527.7,380.0 L529.0,379.9 L530.3,379.8 L531.7,379.7 L533.0,379.6 L534.3,379.5 L535.6,379.4 L537.0,379.3 L538.3,379.2 L539.6,379.1 L540.9,379.0 L542.3,378.9 L543.6,378.8 L544.9,378.8 L546.2,378.7 L547.6,378.6 L548.9,378.5 L550.2,378.4 L551.6,378.3 L552.9,378.2 L554.2,378.1 L555.5,378.0 L556.9,377.9 L558.2,377.8 L559.5,377.7 L560.8,377.6 L562.2,377.5 L563.5,377.4 L564.8,377.3 L566.1,377.2 L567.5,377.1 L568.8,377.0 L570.1,376.9 L571.5,376.8 L572.8,376.7 L574.1,376.7 L575.4,376.6 L576.8,376.5 L578.1,376.4 L579.4,376.3 L580.7,376.2 L582.1,376.1 L583.4,376.0 L584.7,375.9 L586.0,375.8 L587.4,375.7 L588.7,375.6 L590.0,375.5 L591.4,375.4 L592.7,375.3 L594.0,375.2 L595.3,375.1 L596.7,375.0 L598.0,374.9 L599.3,374.8 L600.6,374.7 L602.0,374.7 L603.3,374.6 L604.6,374.5 L605.9,374.4 L607.3,374.3 L608.6,374.2 L609.9,374.1 L611.3,374.0 L612.6,373.9 L613.9,373.8 L615.2,373.7 L616.6,373.6 L617.9,373.5 L619.2,373.4 L620.5,373.3 L621.9,373.2 L623.2,373.1 L624.5,373.0 L625.8,372.9 L627.2,372.8 L628.5,372.7 L629.8,372.6 L631.2,372.6 L632.5,372.5 L633.8,372.4 L635.1,372.3 L636.5,372.2 L637.8,372.1 L639.1,372.0 L640.4,371.9 L641.8,371.8 L643.1,371.7 L644.4,371.6 L645.7,371.5 L647.1,371.4 L648.4,371.3 L648.8,371.3 L648.3,371.9 L647.9,372.5 L647.4,373.1 L647.0,373.6 L646.5,374.2 L646.0,374.8 L645.5,375.4 L645.0,376.0 L644.5,376.5 L644.0,377.1 L643.5,377.7 L642.9,378.3 L642.4,378.8 L641.8,379.4 L641.2,380.0 L640.6,380.6 L640.0,381.2 L639.3,381.7 L638.6,382.3 L638.0,382.9 L637.2,383.5 L636.5,384.1 L635.7,384.6 L634.9,385.2 L634.1,385.8 L633.2,386.4 L632.3,387.0 L631.3,387.5 L630.3,388.1 L629.2,388.7 L628.0,389.3 L626.7,389.9 L625.2,390.4 L623.6,391.0 L621.8,391.6 L619.6,392.2 L616.9,392.8 L613.0,393.3 L597.9,393.9 L596.9,394.0 L596.0,394.0 L595.1,394.0 L594.2,394.1 L593.3,394.1 L592.3,394.2 L591.4,394.2 L590.5,394.2 L589.6,394.3 L588.7,394.3 L587.7,394.4 L586.8,394.4 L585.9,394.4 L585.0,394.5 L584.1,394.5 L583.1,394.5 L582.2,394.6 L581.3,394.6 L580.4,394.6 L579.5,394.7 L578.5,394.7 L577.6,394.7 L576.7,394.8 L575.8,394.8 L574.8,394.8 L573.9,394.8 L573.0,394.9 L572.1,394.9 L571.2,394.9 L570.2,394.9 L569.3,394.9 L568.4,395.0 L567.5,395.0 L566.6,395.0 L565.6,395.0 L564.7,395.0 L563.8,395.0 L562.9,395.0 L562.0,395.1 L559.7,394.9 L557.5,394.8 L555.2,394.7 L553.0,394.5 L550.7,394.4 L548.5,394.2 L546.2,394.0 L544.0,393.8 L541.7,393.6 L539.5,393.4 L537.2,393.2 L535.0,393.0 L532.7,392.8 L530.5,392.6 L528.3,392.4 L526.0,392.2 L523.8,392.0 L521.5,391.8 L519.3,391.6 L517.0,391.4 L514.8,391.2 L512.5,391.1 L510.3,390.9 L508.0,390.8 L505.8,390.6 L503.5,390.5 L501.3,390.4 L499.0,390.3 L496.8,390.2 L494.5,390.1 L492.3,390.0 L490.0,389.9 L487.8,389.9 L485.5,389.8 L483.3,389.8 L481.0,389.7 L478.8,389.7 L476.6,389.6 L474.3,389.6 L472.1,389.6 L469.8,389.5 L467.6,389.5 L465.3,389.5 L463.1,389.5 L460.8,389.4 L458.6,389.4 L456.3,389.4 L454.1,389.4 L451.8,389.4 L449.6,389.4 L447.3,389.4 L445.1,389.4 L442.8,389.4 L440.6,389.4 L438.3,389.4 L436.1,389.4 L433.8,389.3 L431.6,389.3 L429.4,389.3 L427.1,389.3 L424.9,389.3 L422.6,389.3 L420.4,389.3 L418.1,389.3 L415.9,389.3 L413.6,389.3 L411.4,389.3 L409.1,389.3 L406.9,389.3 L404.6,389.3 L402.4,389.3 L400.1,389.3 L397.9,389.3 L395.6,389.3 L393.4,389.3 L391.1,389.3 L388.9,389.3 L386.6,389.3 L384.4,389.3" fill="none" stroke="#0000ff" stroke-width="1.3" stroke-linejoin="round" stroke-linecap="round"/>
<path d="M384.4,391.7 L385.7,391.4 L387.1,391.2 L388.4,391.0 L389.7,390.8 L391.0,390.6 L392.4,390.5 L393.7,390.3 L395.0,390.2 L396.3,390.0 L397.7,389.9 L399.0,389.8 L400.3,389.7 L401.6,389.6 L403.0,389.5 L404.3,389.4 L405.6,389.3 L406.9,389.3 L408.3,389.2 L409.6,389.1 L410.9,389.0 L412.2,389.0 L413.6,388.9 L414.9,388.9 L416.2,388.8 L417.5,388.7 L418.9,388.7 L420.2,388.6 L421.5,388.6 L422.9,388.5 L424.2,388.5 L425.5,388.4 L426.8,388.4 L428.2,388.3 L429.5,388.3 L430.8,388.2 L432.1,388.2 L433.5,388.1 L434.8,388.1 L436.1,388.0 L437.4,388.0 L438.8,387.9 L440.1,387.9 L441.4,387.8 L442.7,387.8 L444.1,387.7 L445.4,387.7 L446.7,387.7 L448.0,387.6 L449.4,387.6 L450.7,387.5 L452.0,387.5 L453.3,387.5 L454.7,387.4 L456.0,387.4 L457.3,387.4 L458.7,387.3 L460.0,387.3 L461.3,387.3 L462.6,387.3 L464.0,387.2 L465.3,387.2 L466.6,387.2 L467.9,387.2 L469.3,387.1 L470.6,387.1 L471.9,387.1 L473.2,387.1 L474.6,387.1 L475.9,387.0 L477.2,387.0 L478.5,387.0 L479.9,387.0 L481.2,387.0 L482.5,387.0 L483.8,386.9 L485.2,386.9 L486.5,386.9 L487.8,386.9 L489.1,386.9 L490.5,386.9 L491.8,386.8 L493.1,386.8 L494.5,386.8 L495.8,386.8 L497.1,386.7 L498.4,386.7 L499.8,386.6 L501.1,386.6 L502.4,386.6 L503.7,386.5 L505.1,386.4 L506.4,386.3 L507.7,386.2 L509.0,386.1 L510.4,385.9 L511.7,385.7 L513.0,385.4 L514.3,385.0 L515.7,384.6 L517.0,384.1 L518.3,383.5 L519.6,382.8 L521.0,382.2 L522.3,381.4 L523.6,380.6 L524.9,379.7 L526.3,378.7 L527.6,377.7 L528.9,376.6 L530.3,375.7 L531.6,374.9 L532.9,374.2 L534.2,373.7 L535.6,373.3 L536.9,373.2 L538.2,373.0 L539.5,372.9 L540.9,372.8 L542.2,372.7 L543.5,372.5 L544.8,372.4 L546.2,372.3 L547.5,372.2 L548.8,372.1 L550.1,371.9 L551.5,371.8 L552.8,371.7 L554.1,371.6 L555.4,371.5 L556.8,371.3 L558.1,371.2 L559.4,371.1 L560.7,371.0 L562.1,370.9 L563.4,370.7 L564.7,370.6 L566.1,370.5 L567.4,370.4 L568.7,370.3 L570.0,370.1 L571.4,370.0 L572.7,369.9 L574.0,369.8 L575.3,369.6 L576.7,369.5 L578.0,369.4 L579.3,369.3 L580.6,369.2 L582.0,369.0 L583.3,368.9 L584.6,368.8 L585.9,368.7 L587.3,368.6 L588.6,368.4 L589.9,368.3 L591.2,368.2 L592.6,368.1 L593.9,368.0 L595.2,367.8 L596.5,367.7 L597.9,367.6 L599.2,367.5 L600.5,367.4 L601.9,367.2 L603.2,367.1 L604.5,367.0 L605.8,366.9 L607.2,366.7 L608.5,366.6 L609.8,366.5 L611.1,366.4 L612.5,366.3 L613.8,366.1 L615.1,366.0 L616.4,365.9 L617.8,365.8 L619.1,365.7 L620.4,365.5 L621.7,365.4 L623.1,365.3 L624.4,365.2 L625.7,365.1 L627.0,364.9 L628.4,364.8 L629.7,364.7 L631.0,364.6 L632.3,364.5 L633.7,364.3 L635.0,364.2 L636.3,364.1 L637.7,364.0 L639.0,363.8 L640.3,363.7 L641.6,363.6 L643.0,363.5 L644.3,363.4 L645.6,363.2 L646.9,363.1 L648.3,363.0 L648.6,363.0 L648.1,363.9 L647.6,364.8 L647.1,365.7 L646.6,366.5 L646.1,367.4 L645.5,368.3 L645.0,369.2 L644.4,370.1 L643.9,370.9 L643.3,371.8 L642.7,372.7 L642.1,373.6 L641.5,374.5 L640.9,375.4 L640.2,376.2 L639.5,377.1 L638.9,378.0 L638.2,378.9 L637.4,379.8 L636.7,380.7 L635.9,381.5 L635.1,382.4 L634.3,383.3 L633.4,384.2 L632.5,385.1 L631.6,385.9 L630.6,386.8 L629.5,387.7 L628.4,388.6 L627.3,389.5 L626.0,390.4 L624.6,391.2 L623.1,392.1 L621.5,393.0 L619.6,393.9 L617.4,394.8 L614.7,395.7 L610.9,396.5 L597.9,397.4 L596.9,397.6 L595.9,397.8 L594.9,397.9 L594.0,398.1 L593.0,398.3 L592.0,398.4 L591.0,398.6 L590.1,398.8 L589.1,398.9 L588.1,399.1 L587.1,399.2 L586.2,399.4 L585.2,399.5 L584.2,399.7 L583.3,399.8 L582.3,400.0 L581.3,400.1 L580.3,400.2 L579.4,400.4 L578.4,400.5 L577.4,400.6 L576.4,400.7 L575.5,400.8 L574.5,400.9 L573.5,401.1 L572.5,401.2 L571.6,401.3 L570.6,401.4 L569.6,401.4 L568.7,401.5 L567.7,401.6 L566.7,401.7 L565.7,401.8 L564.8,401.8 L563.8,401.9 L562.8,402.0 L561.8,402.0 L560.9,402.0 L559.9,402.1 L557.7,401.8 L555.4,401.6 L553.2,401.4 L551.0,401.1 L548.8,400.8 L546.6,400.5 L544.3,400.2 L542.1,399.9 L539.9,399.5 L537.7,399.1 L535.5,398.8 L533.2,398.4 L531.0,398.0 L528.8,397.6 L526.6,397.2 L524.3,396.8 L522.1,396.4 L519.9,396.1 L517.7,395.7 L515.5,395.4 L513.2,395.0 L511.0,394.7 L508.8,394.4 L506.6,394.2 L504.4,393.9 L502.1,393.7 L499.9,393.5 L497.7,393.3 L495.5,393.1 L493.2,393.0 L491.0,392.8 L488.8,392.7 L486.6,392.6 L484.4,392.5 L482.1,392.4 L479.9,392.3 L477.7,392.2 L475.5,392.2 L473.3,392.1 L471.0,392.1 L468.8,392.0 L466.6,392.0 L464.4,391.9 L462.1,391.9 L459.9,391.9 L457.7,391.8 L455.5,391.8 L453.3,391.8 L451.0,391.8 L448.8,391.8 L446.6,391.8 L444.4,391.8 L442.2,391.7 L439.9,391.7 L437.7,391.7 L435.5,391.7 L433.3,391.7 L431.0,391.7 L428.8,391.7 L426.6,391.7 L424.4,391.7 L422.2,391.7 L419.9,391.7 L417.7,391.7 L415.5,391.7 L413.3,391.7 L411.1,391.7 L408.8,391.7 L406.6,391.7 L404.4,391.7 L402.2,391.7 L399.9,391.7 L397.7,391.7 L395.5,391.7 L393.3,391.7 L391.1,391.7 L388.8,391.7 L386.6,391.7 L384.4,391.7" fill="none" stroke="#008080" stroke-width="1.3" stroke-linejoin="round" stroke-linecap="round"/>
<path d="M384.4,393.9 L385.7,393.6 L387.1,393.2 L388.4,392.9 L389.7,392.6 L391.0,392.4 L392.4,392.2 L393.7,391.9 L395.0,391.7 L396.3,391.6 L397.7,391.4 L399.0,391.2 L400.3,391.0 L401.6,390.9 L403.0,390.7 L404.3,390.6 L405.6,390.5 L406.9,390.4 L408.3,390.3 L409.6,390.2 L410.9,390.1 L412.2,390.0 L413.6,389.9 L414.9,389.8 L416.2,389.7 L417.5,389.6 L418.9,389.5 L420.2,389.5 L421.5,389.4 L422.8,389.3 L424.2,389.2 L425.5,389.2 L426.8,389.1 L428.1,389.0 L429.5,388.9 L430.8,388.9 L432.1,388.8 L433.4,388.7 L434.8,388.6 L436.1,388.6 L437.4,388.5 L438.7,388.4 L440.1,388.4 L441.4,388.3 L442.7,388.2 L444.0,388.2 L445.4,388.1 L446.7,388.0 L448.0,388.0 L449.3,387.9 L450.7,387.9 L452.0,387.8 L453.3,387.8 L454.6,387.7 L456.0,387.7 L457.3,387.6 L458.6,387.6 L459.9,387.5 L461.3,387.5 L462.6,387.5 L463.9,387.4 L465.2,387.4 L466.6,387.3 L467.9,387.3 L469.2,387.3 L470.5,387.2 L471.9,387.2 L473.2,387.2 L474.5,387.2 L475.8,387.1 L477.2,387.1 L478.5,387.1 L479.8,387.1 L481.1,387.0 L482.5,387.0 L483.8,387.0 L485.1,387.0 L486.4,386.9 L487.8,386.9 L489.1,386.9 L490.4,386.9 L491.7,386.9 L493.1,386.8 L494.4,386.8 L495.7,386.8 L497.0,386.7 L498.4,386.7 L499.7,386.7 L501.0,386.6 L502.3,386.6 L503.7,386.5 L505.0,386.5 L506.3,386.4 L507.6,386.3 L509.0,386.1 L510.3,386.0 L511.6,385.8 L512.9,385.5 L514.3,385.2 L515.6,384.8 L516.9,384.3 L518.3,383.7 L519.6,383.1 L520.9,382.4 L522.2,381.7 L523.6,380.9 L524.9,380.1 L526.2,379.2 L527.5,378.3 L528.9,377.4 L530.2,376.4 L531.5,375.5 L532.8,374.6 L534.2,373.8 L535.5,373.0 L536.8,372.3 L538.1,371.7 L539.5,371.0 L540.8,370.5 L542.1,369.9 L543.4,369.4 L544.8,368.9 L546.1,368.5 L547.4,368.1 L548.7,367.7 L550.1,367.3 L551.4,366.9 L552.7,366.6 L554.0,366.3 L555.4,366.0 L556.7,365.7 L558.0,365.5 L559.3,365.2 L560.7,365.0 L562.0,364.7 L563.3,364.5 L564.6,364.3 L566.0,364.1 L567.3,363.9 L568.6,363.8 L569.9,363.6 L571.3,363.4 L572.6,363.3 L573.9,363.1 L575.2,363.0 L576.6,362.8 L577.9,362.7 L579.2,362.6 L580.5,362.4 L581.9,362.3 L583.2,362.2 L584.5,362.1 L585.8,361.9 L587.2,361.8 L588.5,361.7 L589.8,361.6 L591.1,361.5 L592.5,361.4 L593.8,361.3 L595.1,361.2 L596.4,361.1 L597.8,361.0 L599.1,360.9 L600.4,360.8 L601.7,360.7 L603.1,360.6 L604.4,360.5 L605.7,360.4 L607.0,360.4 L608.4,360.3 L609.7,360.2 L611.0,360.1 L612.3,360.0 L613.7,359.9 L615.0,359.8 L616.3,359.7 L617.6,359.7 L619.0,359.6 L620.3,359.5 L621.6,359.4 L622.9,359.3 L624.3,359.2 L625.6,359.1 L626.9,359.1 L628.2,359.0 L629.6,358.9 L630.9,358.8 L632.2,358.7 L633.5,358.7 L634.9,358.6 L636.2,358.5 L637.5,358.4 L638.8,358.3 L640.2,358.2 L641.5,358.2 L642.8,358.1 L644.1,358.0 L645.5,357.9 L646.8,357.8 L648.1,357.8 L648.4,357.8 L647.9,358.9 L647.4,359.9 L646.8,361.0 L646.3,362.1 L645.7,363.2 L645.2,364.3 L644.6,365.4 L644.0,366.5 L643.4,367.6 L642.8,368.7 L642.1,369.8 L641.5,370.9 L640.8,372.0 L640.2,373.1 L639.5,374.2 L638.8,375.3 L638.0,376.3 L637.3,377.4 L636.5,378.5 L635.7,379.6 L634.9,380.7 L634.1,381.8 L633.2,382.9 L632.3,384.0 L631.4,385.1 L630.4,386.2 L629.3,387.3 L628.3,388.4 L627.1,389.5 L625.9,390.6 L624.6,391.7 L623.2,392.7 L621.7,393.8 L620.0,394.9 L618.1,396.0 L615.9,397.1 L613.2,398.2 L609.5,399.3 L597.9,400.4 L596.7,400.6 L595.6,400.9 L594.5,401.1 L593.4,401.4 L592.2,401.6 L591.1,401.8 L590.0,402.1 L588.9,402.3 L587.7,402.5 L586.6,402.7 L585.5,402.9 L584.4,403.1 L583.2,403.3 L582.1,403.5 L581.0,403.7 L579.9,403.9 L578.8,404.1 L577.6,404.3 L576.5,404.5 L575.4,404.7 L574.3,404.8 L573.1,405.0 L572.0,405.2 L570.9,405.3 L569.8,405.5 L568.6,405.6 L567.5,405.7 L566.4,405.9 L565.3,406.0 L564.1,406.1 L563.0,406.3 L561.9,406.4 L560.8,406.5 L559.7,406.6 L558.5,406.6 L557.4,406.7 L556.3,406.8 L555.2,406.8 L554.0,406.9 L551.9,406.6 L549.7,406.3 L547.6,406.1 L545.4,405.7 L543.3,405.4 L541.1,405.0 L539.0,404.7 L536.9,404.2 L534.7,403.8 L532.6,403.4 L530.4,402.9 L528.3,402.4 L526.1,401.9 L524.0,401.4 L521.8,400.9 L519.7,400.5 L517.5,400.0 L515.4,399.5 L513.2,399.1 L511.1,398.6 L508.9,398.2 L506.8,397.8 L504.6,397.5 L502.5,397.1 L500.4,396.8 L498.2,396.5 L496.1,396.2 L493.9,396.0 L491.8,395.8 L489.6,395.6 L487.5,395.4 L485.3,395.2 L483.2,395.1 L481.0,394.9 L478.9,394.8 L476.7,394.7 L474.6,394.6 L472.4,394.5 L470.3,394.5 L468.1,394.4 L466.0,394.4 L463.8,394.3 L461.7,394.3 L459.6,394.2 L457.4,394.2 L455.3,394.2 L453.1,394.1 L451.0,394.1 L448.8,394.1 L446.7,394.1 L444.5,394.1 L442.4,394.0 L440.2,394.0 L438.1,394.0 L435.9,394.0 L433.8,394.0 L431.6,394.0 L429.5,394.0 L427.3,394.0 L425.2,394.0 L423.1,394.0 L420.9,394.0 L418.8,394.0 L416.6,394.0 L414.5,394.0 L412.3,394.0 L410.2,394.0 L408.0,394.0 L405.9,393.9 L403.7,393.9 L401.6,393.9 L399.4,393.9 L397.3,393.9 L395.1,393.9 L393.0,393.9 L390.8,393.9 L388.7,393.9 L386.5,393.9 L384.4,393.9" fill="none" stroke="#ff00ff" stroke-width="1.3" stroke-linejoin="round" stroke-linecap="round"/>
<path d="M384.4,395.8 L385.7,395.4 L387.0,395.0 L388.4,394.6 L389.7,394.2 L391.0,393.9 L392.3,393.6 L393.7,393.3 L395.0,393.1 L396.3,392.8 L397.6,392.6 L399.0,392.4 L400.3,392.2 L401.6,392.0 L402.9,391.8 L404.3,391.6 L405.6,391.5 L406.9,391.3 L408.2,391.2 L409.6,391.1 L410.9,390.9 L412.2,390.8 L413.5,390.7 L414.9,390.6 L416.2,390.5 L417.5,390.4 L418.8,390.3 L420.2,390.2 L421.5,390.1 L422.8,390.0 L424.1,389.9 L425.5,389.8 L426.8,389.7 L428.1,389.6 L429.4,389.5 L430.8,389.4 L432.1,389.3 L433.4,389.2 L434.7,389.1 L436.1,389.0 L437.4,389.0 L438.7,388.9 L440.0,388.8 L441.4,388.7 L442.7,388.6 L444.0,388.5 L445.3,388.4 L446.7,388.4 L448.0,388.3 L449.3,388.2 L450.6,388.1 L452.0,388.1 L453.3,388.0 L454.6,387.9 L455.9,387.9 L457.3,387.8 L458.6,387.8 L459.9,387.7 L461.2,387.7 L462.6,387.6 L463.9,387.6 L465.2,387.5 L466.5,387.5 L467.9,387.4 L469.2,387.4 L470.5,387.4 L471.8,387.3 L473.2,387.3 L474.5,387.2 L475.8,387.2 L477.1,387.2 L478.5,387.1 L479.8,387.1 L481.1,387.1 L482.4,387.1 L483.8,387.0 L485.1,387.0 L486.4,387.0 L487.7,386.9 L489.1,386.9 L490.4,386.9 L491.7,386.9 L493.0,386.8 L494.3,386.8 L495.7,386.8 L497.0,386.7 L498.3,386.7 L499.6,386.7 L501.0,386.6 L502.3,386.6 L503.6,386.5 L504.9,386.5 L506.3,386.4 L507.6,386.3 L508.9,386.2 L510.2,386.0 L511.6,385.9 L512.9,385.6 L514.2,385.3 L515.5,384.9 L516.9,384.4 L518.2,383.9 L519.5,383.3 L520.8,382.6 L522.2,381.9 L523.5,381.1 L524.8,380.3 L526.1,379.4 L527.5,378.3 L528.8,377.1 L530.1,375.8 L531.4,374.4 L532.8,373.0 L534.1,371.6 L535.4,370.2 L536.7,369.0 L538.1,367.9 L539.4,366.9 L540.7,366.0 L542.0,365.2 L543.4,364.5 L544.7,363.8 L546.0,363.2 L547.3,362.7 L548.7,362.2 L550.0,361.7 L551.3,361.3 L552.6,361.0 L554.0,360.6 L555.3,360.3 L556.6,360.0 L557.9,359.7 L559.3,359.4 L560.6,359.2 L561.9,358.9 L563.2,358.7 L564.6,358.5 L565.9,358.3 L567.2,358.1 L568.5,358.0 L569.9,357.8 L571.2,357.6 L572.5,357.4 L573.8,357.3 L575.2,357.1 L576.5,357.0 L577.8,356.8 L579.1,356.7 L580.5,356.6 L581.8,356.4 L583.1,356.3 L584.4,356.2 L585.8,356.0 L587.1,355.9 L588.4,355.8 L589.7,355.6 L591.1,355.5 L592.4,355.4 L593.7,355.3 L595.0,355.1 L596.4,355.0 L597.7,354.9 L599.0,354.8 L600.3,354.6 L601.6,354.5 L603.0,354.4 L604.3,354.3 L605.6,354.1 L606.9,354.0 L608.3,353.9 L609.6,353.8 L610.9,353.7 L612.2,353.5 L613.6,353.4 L614.9,353.3 L616.2,353.2 L617.5,353.1 L618.9,352.9 L620.2,352.8 L621.5,352.7 L622.8,352.6 L624.2,352.5 L625.5,352.3 L626.8,352.2 L628.1,352.1 L629.5,352.0 L630.8,351.9 L632.1,351.7 L633.4,351.6 L634.8,351.5 L636.1,351.4 L637.4,351.3 L638.7,351.1 L640.1,351.0 L641.4,350.9 L642.7,350.8 L644.0,350.7 L645.4,350.6 L646.7,350.4 L648.0,350.3 L648.3,350.3 L647.7,351.7 L647.2,353.0 L646.7,354.3 L646.1,355.7 L645.5,357.0 L644.9,358.4 L644.3,359.7 L643.7,361.1 L643.1,362.4 L642.4,363.8 L641.8,365.1 L641.1,366.4 L640.4,367.8 L639.7,369.1 L639.0,370.5 L638.2,371.8 L637.5,373.2 L636.7,374.5 L635.9,375.8 L635.1,377.2 L634.3,378.5 L633.4,379.9 L632.5,381.2 L631.6,382.6 L630.6,383.9 L629.6,385.3 L628.5,386.6 L627.4,387.9 L626.2,389.3 L625.0,390.6 L623.6,392.0 L622.2,393.3 L620.7,394.7 L619.0,396.0 L617.1,397.3 L614.9,398.7 L612.2,400.0 L608.6,401.4 L597.9,402.7 L596.7,403.1 L595.5,403.4 L594.3,403.8 L593.1,404.1 L591.9,404.5 L590.7,404.8 L589.6,405.1 L588.4,405.4 L587.2,405.8 L586.0,406.1 L584.8,406.4 L583.6,406.7 L582.4,407.0 L581.2,407.3 L580.1,407.5 L578.9,407.8 L577.7,408.1 L576.5,408.4 L575.3,408.6 L574.1,408.9 L572.9,409.1 L571.8,409.4 L570.6,409.6 L569.4,409.8 L568.2,410.0 L567.0,410.3 L565.8,410.5 L564.6,410.7 L563.4,410.8 L562.3,411.0 L561.1,411.2 L559.9,411.3 L558.7,411.5 L557.5,411.6 L556.3,411.7 L555.1,411.9 L553.9,411.9 L552.8,412.0 L551.6,412.1 L549.5,411.8 L547.3,411.4 L545.2,411.1 L543.1,410.7 L541.0,410.3 L538.9,409.8 L536.8,409.4 L534.6,408.8 L532.5,408.3 L530.4,407.7 L528.3,407.1 L526.2,406.5 L524.1,405.9 L522.0,405.3 L519.8,404.7 L517.7,404.0 L515.6,403.4 L513.5,402.8 L511.4,402.2 L509.3,401.7 L507.1,401.2 L505.0,400.7 L502.9,400.2 L500.8,399.8 L498.7,399.4 L496.6,399.0 L494.4,398.6 L492.3,398.3 L490.2,398.1 L488.1,397.8 L486.0,397.6 L483.9,397.4 L481.7,397.2 L479.6,397.0 L477.5,396.9 L475.4,396.8 L473.3,396.7 L471.2,396.6 L469.0,396.5 L466.9,396.4 L464.8,396.3 L462.7,396.3 L460.6,396.2 L458.5,396.2 L456.3,396.1 L454.2,396.1 L452.1,396.1 L450.0,396.0 L447.9,396.0 L445.8,396.0 L443.7,396.0 L441.5,396.0 L439.4,395.9 L437.3,395.9 L435.2,395.9 L433.1,395.9 L431.0,395.9 L428.8,395.9 L426.7,395.9 L424.6,395.9 L422.5,395.9 L420.4,395.9 L418.3,395.9 L416.1,395.9 L414.0,395.9 L411.9,395.9 L409.8,395.9 L407.7,395.9 L405.6,395.9 L403.4,395.9 L401.3,395.9 L399.2,395.9 L397.1,395.9 L395.0,395.9 L392.9,395.9 L390.7,395.9 L388.6,395.9 L386.5,395.9 L384.4,395.9" fill="none" stroke="#808000" stroke-width="1.3" stroke-linejoin="round" stroke-linecap="round"/>
<path d="M384.4,397.7 L385.7,397.1 L387.0,396.6 L388.4,396.1 L389.7,395.7 L391.0,395.3 L392.3,395.0 L393.7,394.6 L395.0,394.3 L396.3,394.0 L397.6,393.8 L399.0,393.5 L400.3,393.3 L401.6,393.0 L402.9,392.8 L404.3,392.6 L405.6,392.4 L406.9,392.3 L408.2,392.1 L409.6,391.9 L410.9,391.8 L412.2,391.6 L413.5,391.5 L414.9,391.4 L416.2,391.2 L417.5,391.1 L418.8,391.0 L420.2,390.8 L421.5,390.7 L422.8,390.6 L424.1,390.5 L425.4,390.4 L426.8,390.3 L428.1,390.1 L429.4,390.0 L430.7,389.9 L432.1,389.8 L433.4,389.7 L434.7,389.6 L436.0,389.5 L437.4,389.4 L438.7,389.3 L440.0,389.2 L441.3,389.1 L442.7,389.0 L444.0,388.9 L445.3,388.8 L446.6,388.7 L448.0,388.6 L449.3,388.5 L450.6,388.4 L451.9,388.3 L453.3,388.2 L454.6,388.2 L455.9,388.1 L457.2,388.0 L458.6,388.0 L459.9,387.9 L461.2,387.8 L462.5,387.8 L463.8,387.7 L465.2,387.7 L466.5,387.6 L467.8,387.6 L469.1,387.5 L470.5,387.5 L471.8,387.4 L473.1,387.4 L474.4,387.3 L475.8,387.3 L477.1,387.2 L478.4,387.2 L479.7,387.2 L481.1,387.1 L482.4,387.1 L483.7,387.1 L485.0,387.0 L486.4,387.0 L487.7,387.0 L489.0,386.9 L490.3,386.9 L491.7,386.9 L493.0,386.8 L494.3,386.8 L495.6,386.8 L497.0,386.7 L498.3,386.7 L499.6,386.7 L500.9,386.6 L502.2,386.6 L503.6,386.6 L504.9,386.5 L506.2,386.4 L507.5,386.3 L508.9,386.2 L510.2,386.1 L511.5,385.9 L512.8,385.7 L514.2,385.4 L515.5,385.0 L516.8,384.5 L518.1,384.0 L519.5,383.4 L520.8,382.8 L522.1,382.1 L523.4,381.3 L524.8,380.5 L526.1,379.6 L527.4,378.6 L528.7,377.6 L530.1,376.4 L531.4,375.2 L532.7,374.0 L534.0,372.7 L535.4,371.6 L536.7,370.4 L538.0,369.4 L539.3,368.3 L540.7,367.4 L542.0,366.5 L543.3,365.6 L544.6,364.7 L545.9,363.9 L547.3,363.2 L548.6,362.4 L549.9,361.8 L551.2,361.1 L552.6,360.5 L553.9,359.9 L555.2,359.3 L556.5,358.7 L557.9,358.2 L559.2,357.7 L560.5,357.2 L561.8,356.8 L563.2,356.3 L564.5,355.9 L565.8,355.5 L567.1,355.1 L568.5,354.7 L569.8,354.4 L571.1,354.0 L572.4,353.7 L573.8,353.4 L575.1,353.1 L576.4,352.8 L577.7,352.5 L579.1,352.2 L580.4,351.9 L581.7,351.7 L583.0,351.4 L584.3,351.2 L585.7,350.9 L587.0,350.7 L588.3,350.5 L589.6,350.3 L591.0,350.1 L592.3,349.9 L593.6,349.7 L594.9,349.5 L596.3,349.3 L597.6,349.1 L598.9,348.9 L600.2,348.8 L601.6,348.6 L602.9,348.4 L604.2,348.3 L605.5,348.1 L606.9,348.0 L608.2,347.8 L609.5,347.7 L610.8,347.5 L612.2,347.4 L613.5,347.2 L614.8,347.1 L616.1,347.0 L617.5,346.8 L618.8,346.7 L620.1,346.6 L621.4,346.5 L622.7,346.3 L624.1,346.2 L625.4,346.1 L626.7,346.0 L628.0,345.8 L629.4,345.7 L630.7,345.6 L632.0,345.5 L633.3,345.4 L634.7,345.3 L636.0,345.1 L637.3,345.0 L638.6,344.9 L640.0,344.8 L641.3,344.7 L642.6,344.6 L643.9,344.5 L645.3,344.4 L646.6,344.3 L647.9,344.2 L648.1,344.2 L647.6,345.7 L647.1,347.3 L646.5,348.8 L645.9,350.4 L645.4,351.9 L644.7,353.5 L644.1,355.1 L643.5,356.6 L642.8,358.2 L642.2,359.7 L641.5,361.3 L640.7,362.8 L640.0,364.4 L639.3,365.9 L638.6,367.5 L637.8,369.1 L637.0,370.6 L636.2,372.2 L635.4,373.7 L634.6,375.3 L633.7,376.8 L632.9,378.4 L631.9,380.0 L631.0,381.5 L630.0,383.1 L628.9,384.6 L627.9,386.2 L626.7,387.7 L625.5,389.3 L624.2,390.8 L622.9,392.4 L621.4,394.0 L619.9,395.5 L618.2,397.1 L616.3,398.6 L614.1,400.2 L611.4,401.7 L607.9,403.3 L597.9,404.9 L596.6,405.3 L595.4,405.7 L594.2,406.2 L593.0,406.6 L591.8,407.0 L590.5,407.4 L589.3,407.8 L588.1,408.2 L586.9,408.6 L585.7,409.0 L584.4,409.4 L583.2,409.8 L582.0,410.1 L580.8,410.5 L579.5,410.9 L578.3,411.2 L577.1,411.5 L575.9,411.9 L574.7,412.2 L573.4,412.5 L572.2,412.8 L571.0,413.1 L569.8,413.4 L568.6,413.7 L567.3,414.0 L566.1,414.2 L564.9,414.5 L563.7,414.7 L562.5,414.9 L561.2,415.2 L560.0,415.4 L558.8,415.6 L557.6,415.8 L556.4,415.9 L555.1,416.1 L553.9,416.2 L552.7,416.3 L551.5,416.4 L550.3,416.5 L548.2,416.1 L546.1,415.8 L544.0,415.4 L541.9,414.9 L539.8,414.5 L537.7,413.9 L535.6,413.4 L533.5,412.8 L531.4,412.2 L529.3,411.5 L527.2,410.8 L525.1,410.1 L523.0,409.3 L520.9,408.6 L518.8,407.9 L516.7,407.1 L514.6,406.4 L512.5,405.7 L510.4,405.0 L508.3,404.3 L506.2,403.7 L504.1,403.1 L502.0,402.6 L499.9,402.0 L497.8,401.6 L495.7,401.2 L493.6,400.8 L491.5,400.4 L489.4,400.1 L487.3,399.8 L485.2,399.6 L483.1,399.3 L481.0,399.1 L478.9,398.9 L476.8,398.8 L474.7,398.6 L472.6,398.5 L470.5,398.4 L468.4,398.3 L466.3,398.2 L464.2,398.2 L462.1,398.1 L460.0,398.1 L457.9,398.0 L455.8,398.0 L453.7,397.9 L451.6,397.9 L449.5,397.9 L447.4,397.8 L445.3,397.8 L443.2,397.8 L441.1,397.8 L439.0,397.8 L436.9,397.8 L434.8,397.7 L432.7,397.7 L430.6,397.7 L428.5,397.7 L426.4,397.7 L424.3,397.7 L422.2,397.7 L420.1,397.7 L418.0,397.7 L415.9,397.7 L413.8,397.7 L411.7,397.7 L409.6,397.7 L407.5,397.7 L405.4,397.7 L403.3,397.7 L401.2,397.7 L399.1,397.7 L397.0,397.7 L394.9,397.7 L392.8,397.7 L390.7,397.7 L388.6,397.7 L386.5,397.7 L384.4,397.7" fill="none" stroke="#000080" stroke-width="1.3" stroke-linejoin="round" stroke-linecap="round"/>
<path d="M384.4,399.1 L385.7,398.4 L387.0,397.9 L388.4,397.3 L389.7,396.8 L391.0,396.4 L392.3,396.0 L393.7,395.6 L395.0,395.3 L396.3,395.0 L397.6,394.7 L399.0,394.4 L400.3,394.1 L401.6,393.8 L402.9,393.6 L404.3,393.3 L405.6,393.1 L406.9,392.9 L408.2,392.8 L409.6,392.6 L410.9,392.4 L412.2,392.2 L413.5,392.1 L414.8,391.9 L416.2,391.8 L417.5,391.6 L418.8,391.5 L420.1,391.4 L421.5,391.2 L422.8,391.1 L424.1,391.0 L425.4,390.8 L426.8,390.7 L428.1,390.6 L429.4,390.5 L430.7,390.3 L432.1,390.2 L433.4,390.1 L434.7,390.0 L436.0,389.8 L437.3,389.7 L438.7,389.6 L440.0,389.5 L441.3,389.4 L442.6,389.2 L444.0,389.1 L445.3,389.0 L446.6,388.9 L447.9,388.8 L449.3,388.7 L450.6,388.6 L451.9,388.5 L453.2,388.4 L454.6,388.3 L455.9,388.3 L457.2,388.2 L458.5,388.1 L459.9,388.0 L461.2,388.0 L462.5,387.9 L463.8,387.8 L465.1,387.8 L466.5,387.7 L467.8,387.6 L469.1,387.6 L470.4,387.5 L471.8,387.5 L473.1,387.4 L474.4,387.4 L475.7,387.3 L477.1,387.3 L478.4,387.3 L479.7,387.2 L481.0,387.2 L482.4,387.1 L483.7,387.1 L485.0,387.1 L486.3,387.0 L487.7,387.0 L489.0,387.0 L490.3,386.9 L491.6,386.9 L492.9,386.8 L494.3,386.8 L495.6,386.8 L496.9,386.7 L498.2,386.7 L499.6,386.7 L500.9,386.6 L502.2,386.6 L503.5,386.6 L504.9,386.5 L506.2,386.4 L507.5,386.3 L508.8,386.2 L510.2,386.1 L511.5,385.9 L512.8,385.7 L514.1,385.4 L515.5,385.0 L516.8,384.6 L518.1,384.1 L519.4,383.5 L520.7,382.9 L522.1,382.2 L523.4,381.5 L524.7,380.7 L526.0,379.8 L527.4,378.8 L528.7,377.7 L530.0,376.5 L531.3,375.2 L532.7,373.9 L534.0,372.5 L535.3,371.2 L536.6,369.9 L538.0,368.7 L539.3,367.5 L540.6,366.4 L541.9,365.3 L543.2,364.3 L544.6,363.3 L545.9,362.4 L547.2,361.5 L548.5,360.6 L549.9,359.8 L551.2,359.0 L552.5,358.2 L553.8,357.5 L555.2,356.8 L556.5,356.1 L557.8,355.5 L559.1,354.9 L560.5,354.3 L561.8,353.7 L563.1,353.1 L564.4,352.6 L565.8,352.1 L567.1,351.6 L568.4,351.1 L569.7,350.7 L571.0,350.3 L572.4,349.8 L573.7,349.4 L575.0,349.0 L576.3,348.7 L577.7,348.3 L579.0,347.9 L580.3,347.6 L581.6,347.3 L583.0,346.9 L584.3,346.6 L585.6,346.3 L586.9,346.0 L588.3,345.8 L589.6,345.5 L590.9,345.2 L592.2,345.0 L593.6,344.7 L594.9,344.5 L596.2,344.2 L597.5,344.0 L598.8,343.8 L600.2,343.5 L601.5,343.3 L602.8,343.1 L604.1,342.9 L605.5,342.7 L606.8,342.5 L608.1,342.3 L609.4,342.1 L610.8,341.9 L612.1,341.8 L613.4,341.6 L614.7,341.4 L616.1,341.2 L617.4,341.1 L618.7,340.9 L620.0,340.7 L621.3,340.6 L622.7,340.4 L624.0,340.3 L625.3,340.1 L626.6,340.0 L628.0,339.8 L629.3,339.7 L630.6,339.5 L631.9,339.4 L633.3,339.2 L634.6,339.1 L635.9,339.0 L637.2,338.8 L638.6,338.7 L639.9,338.5 L641.2,338.4 L642.5,338.3 L643.9,338.1 L645.2,338.0 L646.5,337.9 L647.8,337.8 L648.0,337.8 L647.5,339.5 L647.0,341.3 L646.4,343.0 L645.8,344.8 L645.3,346.6 L644.6,348.3 L644.0,350.1 L643.4,351.8 L642.7,353.6 L642.0,355.4 L641.3,357.1 L640.5,358.9 L639.8,360.6 L639.0,362.4 L638.3,364.2 L637.5,365.9 L636.7,367.7 L635.9,369.4 L635.1,371.2 L634.3,373.0 L633.4,374.7 L632.5,376.5 L631.6,378.3 L630.6,380.0 L629.6,381.8 L628.5,383.5 L627.4,385.3 L626.2,387.1 L625.0,388.8 L623.7,390.6 L622.3,392.3 L620.9,394.1 L619.3,395.9 L617.6,397.6 L615.7,399.4 L613.5,401.1 L610.9,402.9 L607.4,404.7 L597.9,406.4 L596.6,407.0 L595.4,407.5 L594.2,408.0 L593.0,408.6 L591.8,409.1 L590.5,409.6 L589.3,410.1 L588.1,410.6 L586.9,411.1 L585.7,411.5 L584.4,412.0 L583.2,412.5 L582.0,412.9 L580.8,413.3 L579.5,413.8 L578.3,414.2 L577.1,414.6 L575.9,415.0 L574.7,415.4 L573.4,415.8 L572.2,416.2 L571.0,416.6 L569.8,416.9 L568.6,417.3 L567.3,417.6 L566.1,417.9 L564.9,418.2 L563.7,418.5 L562.5,418.8 L561.2,419.1 L560.0,419.3 L558.8,419.6 L557.6,419.8 L556.4,420.0 L555.1,420.2 L553.9,420.3 L552.7,420.5 L551.5,420.6 L550.3,420.7 L548.2,420.3 L546.1,419.9 L544.0,419.4 L541.9,418.9 L539.8,418.4 L537.7,417.8 L535.6,417.1 L533.5,416.5 L531.4,415.7 L529.3,414.9 L527.2,414.1 L525.1,413.3 L523.0,412.4 L520.9,411.5 L518.8,410.7 L516.7,409.8 L514.6,408.9 L512.5,408.1 L510.4,407.3 L508.3,406.5 L506.2,405.8 L504.1,405.1 L502.0,404.5 L499.9,403.9 L497.8,403.3 L495.7,402.8 L493.6,402.4 L491.5,402.0 L489.4,401.6 L487.3,401.3 L485.2,401.1 L483.1,400.8 L481.0,400.6 L478.9,400.4 L476.8,400.2 L474.7,400.1 L472.6,399.9 L470.5,399.8 L468.4,399.7 L466.3,399.6 L464.2,399.6 L462.1,399.5 L460.0,399.4 L457.9,399.4 L455.8,399.3 L453.7,399.3 L451.6,399.3 L449.5,399.3 L447.4,399.2 L445.3,399.2 L443.2,399.2 L441.1,399.2 L439.0,399.2 L436.9,399.1 L434.8,399.1 L432.7,399.1 L430.6,399.1 L428.5,399.1 L426.4,399.1 L424.3,399.1 L422.2,399.1 L420.1,399.1 L418.0,399.1 L415.9,399.1 L413.8,399.1 L411.7,399.1 L409.6,399.1 L407.5,399.1 L405.4,399.1 L403.3,399.1 L401.2,399.1 L399.1,399.1 L397.0,399.1 L394.9,399.1 L392.8,399.1 L390.7,399.1 L388.6,399.1 L386.5,399.1 L384.4,399.1" fill="none" stroke="#800000" stroke-width="1.3" stroke-linejoin="round" stroke-linecap="round"/>
<path d="M384.4,401.6 L385.7,400.9 L387.0,400.2 L388.4,399.5 L389.7,398.9 L391.0,398.4 L392.3,397.9 L393.7,397.5 L395.0,397.1 L396.3,396.7 L397.6,396.3 L399.0,395.9 L400.3,395.6 L401.6,395.3 L402.9,395.0 L404.2,394.7 L405.6,394.5 L406.9,394.2 L408.2,394.0 L409.5,393.8 L410.9,393.6 L412.2,393.4 L413.5,393.2 L414.8,393.0 L416.2,392.8 L417.5,392.6 L418.8,392.5 L420.1,392.3 L421.4,392.1 L422.8,392.0 L424.1,391.8 L425.4,391.7 L426.7,391.5 L428.1,391.4 L429.4,391.2 L430.7,391.1 L432.0,390.9 L433.4,390.8 L434.7,390.6 L436.0,390.5 L437.3,390.3 L438.6,390.2 L440.0,390.0 L441.3,389.9 L442.6,389.7 L443.9,389.6 L445.3,389.5 L446.6,389.4 L447.9,389.2 L449.2,389.1 L450.5,389.0 L451.9,388.9 L453.2,388.8 L454.5,388.7 L455.8,388.6 L457.2,388.5 L458.5,388.4 L459.8,388.3 L461.1,388.2 L462.5,388.1 L463.8,388.0 L465.1,388.0 L466.4,387.9 L467.7,387.8 L469.1,387.7 L470.4,387.7 L471.7,387.6 L473.0,387.6 L474.4,387.5 L475.7,387.4 L477.0,387.4 L478.3,387.3 L479.7,387.3 L481.0,387.2 L482.3,387.2 L483.6,387.1 L484.9,387.1 L486.3,387.1 L487.6,387.0 L488.9,387.0 L490.2,386.9 L491.6,386.9 L492.9,386.9 L494.2,386.8 L495.5,386.8 L496.9,386.8 L498.2,386.7 L499.5,386.7 L500.8,386.7 L502.1,386.6 L503.5,386.6 L504.8,386.5 L506.1,386.4 L507.4,386.4 L508.8,386.3 L510.1,386.1 L511.4,386.0 L512.7,385.8 L514.1,385.5 L515.4,385.2 L516.7,384.7 L518.0,384.2 L519.3,383.7 L520.7,383.1 L522.0,382.4 L523.3,381.7 L524.6,380.9 L526.0,380.0 L527.3,379.1 L528.6,378.0 L529.9,376.7 L531.3,375.4 L532.6,374.0 L533.9,372.5 L535.2,370.9 L536.5,369.4 L537.9,368.0 L539.2,366.6 L540.5,365.3 L541.8,364.0 L543.2,362.7 L544.5,361.5 L545.8,360.3 L547.1,359.2 L548.5,358.1 L549.8,357.1 L551.1,356.1 L552.4,355.1 L553.7,354.2 L555.1,353.3 L556.4,352.4 L557.7,351.5 L559.0,350.7 L560.4,349.9 L561.7,349.2 L563.0,348.5 L564.3,347.7 L565.6,347.1 L567.0,346.4 L568.3,345.8 L569.6,345.1 L570.9,344.5 L572.3,344.0 L573.6,343.4 L574.9,342.9 L576.2,342.4 L577.6,341.8 L578.9,341.4 L580.2,340.9 L581.5,340.4 L582.8,340.0 L584.2,339.6 L585.5,339.1 L586.8,338.7 L588.1,338.3 L589.5,338.0 L590.8,337.6 L592.1,337.2 L593.4,336.9 L594.8,336.6 L596.1,336.2 L597.4,335.9 L598.7,335.6 L600.0,335.3 L601.4,335.0 L602.7,334.7 L604.0,334.5 L605.3,334.2 L606.7,333.9 L608.0,333.7 L609.3,333.4 L610.6,333.2 L612.0,333.0 L613.3,332.7 L614.6,332.5 L615.9,332.3 L617.2,332.1 L618.6,331.9 L619.9,331.7 L621.2,331.5 L622.5,331.3 L623.9,331.1 L625.2,330.9 L626.5,330.7 L627.8,330.6 L629.2,330.4 L630.5,330.2 L631.8,330.1 L633.1,329.9 L634.4,329.7 L635.8,329.6 L637.1,329.4 L638.4,329.3 L639.7,329.1 L641.1,329.0 L642.4,328.8 L643.7,328.7 L645.0,328.6 L646.4,328.4 L647.7,328.3 L647.9,328.3 L647.4,330.3 L646.8,332.3 L646.3,334.3 L645.7,336.4 L645.1,338.4 L644.5,340.4 L643.9,342.4 L643.2,344.4 L642.5,346.4 L641.7,348.4 L640.9,350.5 L640.1,352.5 L639.4,354.5 L638.6,356.5 L637.8,358.5 L637.0,360.5 L636.2,362.5 L635.4,364.6 L634.5,366.6 L633.7,368.6 L632.8,370.6 L631.9,372.6 L630.9,374.6 L629.9,376.6 L628.9,378.7 L627.7,380.7 L626.6,382.7 L625.3,384.7 L624.0,386.7 L622.7,388.7 L621.3,390.7 L619.8,392.8 L618.2,394.8 L616.5,396.8 L614.6,398.8 L612.5,400.8 L609.9,402.8 L606.6,404.8 L597.9,406.9 L596.5,407.7 L595.2,408.4 L593.9,409.2 L592.6,410.0 L591.3,410.8 L590.0,411.5 L588.7,412.2 L587.4,413.0 L586.0,413.7 L584.7,414.4 L583.4,415.1 L582.1,415.8 L580.8,416.4 L579.5,417.1 L578.2,417.7 L576.9,418.3 L575.5,419.0 L574.2,419.6 L572.9,420.1 L571.6,420.7 L570.3,421.3 L569.0,421.8 L567.7,422.3 L566.4,422.8 L565.0,423.3 L563.7,423.8 L562.4,424.3 L561.1,424.7 L559.8,425.1 L558.5,425.5 L557.2,425.9 L555.9,426.3 L554.5,426.6 L553.2,426.9 L551.9,427.2 L550.6,427.4 L549.3,427.6 L548.0,427.8 L546.7,427.9 L544.6,427.4 L542.6,427.0 L540.5,426.5 L538.4,425.9 L536.4,425.3 L534.3,424.6 L532.3,423.8 L530.2,423.0 L528.2,422.1 L526.1,421.1 L524.1,420.1 L522.0,419.1 L520.0,418.0 L517.9,416.9 L515.9,415.8 L513.8,414.7 L511.7,413.6 L509.7,412.6 L507.6,411.6 L505.6,410.6 L503.5,409.7 L501.5,408.8 L499.4,408.0 L497.4,407.3 L495.3,406.6 L493.3,406.0 L491.2,405.5 L489.2,405.0 L487.1,404.6 L485.0,404.2 L483.0,403.9 L480.9,403.6 L478.9,403.3 L476.8,403.1 L474.8,402.9 L472.7,402.7 L470.7,402.6 L468.6,402.4 L466.6,402.3 L464.5,402.2 L462.5,402.1 L460.4,402.1 L458.3,402.0 L456.3,402.0 L454.2,401.9 L452.2,401.9 L450.1,401.8 L448.1,401.8 L446.0,401.8 L444.0,401.8 L441.9,401.7 L439.9,401.7 L437.8,401.7 L435.7,401.7 L433.7,401.7 L431.6,401.7 L429.6,401.7 L427.5,401.7 L425.5,401.7 L423.4,401.7 L421.4,401.7 L419.3,401.6 L417.3,401.6 L415.2,401.6 L413.2,401.6 L411.1,401.6 L409.0,401.6 L407.0,401.6 L404.9,401.6 L402.9,401.6 L400.8,401.6 L398.8,401.6 L396.7,401.6 L394.7,401.6 L392.6,401.6 L390.6,401.6 L388.5,401.6 L386.5,401.6 L384.4,401.6" fill="none" stroke="#ff0080" stroke-width="1.3" stroke-linejoin="round" stroke-linecap="round"/>
<path d="M384.4,404.1 L385.7,403.2 L387.0,402.4 L388.4,401.7 L389.7,401.0 L391.0,400.3 L392.3,399.8 L393.7,399.3 L395.0,398.8 L396.3,398.3 L397.6,397.9 L398.9,397.5 L400.3,397.1 L401.6,396.7 L402.9,396.4 L404.2,396.0 L405.6,395.8 L406.9,395.5 L408.2,395.2 L409.5,395.0 L410.8,394.7 L412.2,394.5 L413.5,394.3 L414.8,394.0 L416.1,393.8 L417.5,393.6 L418.8,393.4 L420.1,393.2 L421.4,393.0 L422.7,392.8 L424.1,392.7 L425.4,392.5 L426.7,392.3 L428.0,392.1 L429.4,391.9 L430.7,391.8 L432.0,391.6 L433.3,391.4 L434.6,391.2 L436.0,391.1 L437.3,390.9 L438.6,390.7 L439.9,390.6 L441.3,390.4 L442.6,390.2 L443.9,390.1 L445.2,389.9 L446.5,389.8 L447.9,389.6 L449.2,389.5 L450.5,389.4 L451.8,389.2 L453.2,389.1 L454.5,389.0 L455.8,388.8 L457.1,388.7 L458.4,388.6 L459.8,388.5 L461.1,388.4 L462.4,388.3 L463.7,388.2 L465.1,388.1 L466.4,388.1 L467.7,388.0 L469.0,387.9 L470.3,387.8 L471.7,387.8 L473.0,387.7 L474.3,387.6 L475.6,387.6 L477.0,387.5 L478.3,387.4 L479.6,387.4 L480.9,387.3 L482.2,387.3 L483.6,387.2 L484.9,387.1 L486.2,387.1 L487.5,387.0 L488.9,387.0 L490.2,387.0 L491.5,386.9 L492.8,386.9 L494.1,386.8 L495.5,386.8 L496.8,386.8 L498.1,386.7 L499.4,386.7 L500.8,386.7 L502.1,386.6 L503.4,386.6 L504.7,386.5 L506.0,386.5 L507.4,386.4 L508.7,386.3 L510.0,386.2 L511.3,386.0 L512.7,385.8 L514.0,385.6 L515.3,385.2 L516.6,384.8 L517.9,384.4 L519.3,383.8 L520.6,383.2 L521.9,382.5 L523.2,381.8 L524.6,381.1 L525.9,380.3 L527.2,379.3 L528.5,378.2 L529.8,377.0 L531.2,375.7 L532.5,374.2 L533.8,372.7 L535.1,371.1 L536.5,369.5 L537.8,367.9 L539.1,366.4 L540.4,364.9 L541.7,363.4 L543.1,362.0 L544.4,360.6 L545.7,359.3 L547.0,358.0 L548.4,356.7 L549.7,355.5 L551.0,354.3 L552.3,353.1 L553.6,352.0 L555.0,350.9 L556.3,349.8 L557.6,348.7 L558.9,347.7 L560.3,346.7 L561.6,345.8 L562.9,344.8 L564.2,343.9 L565.5,343.0 L566.9,342.2 L568.2,341.3 L569.5,340.5 L570.8,339.7 L572.2,338.9 L573.5,338.2 L574.8,337.4 L576.1,336.7 L577.4,336.0 L578.8,335.4 L580.1,334.7 L581.4,334.1 L582.7,333.5 L584.1,332.9 L585.4,332.3 L586.7,331.7 L588.0,331.2 L589.3,330.6 L590.7,330.1 L592.0,329.6 L593.3,329.1 L594.6,328.6 L596.0,328.2 L597.3,327.7 L598.6,327.3 L599.9,326.9 L601.2,326.4 L602.6,326.1 L603.9,325.7 L605.2,325.3 L606.5,324.9 L607.9,324.6 L609.2,324.2 L610.5,323.9 L611.8,323.6 L613.2,323.3 L614.5,323.0 L615.8,322.7 L617.1,322.4 L618.4,322.1 L619.8,321.8 L621.1,321.6 L622.4,321.3 L623.7,321.1 L625.1,320.9 L626.4,320.6 L627.7,320.4 L629.0,320.2 L630.3,320.0 L631.7,319.8 L633.0,319.6 L634.3,319.4 L635.6,319.2 L637.0,319.1 L638.3,318.9 L639.6,318.7 L640.9,318.6 L642.2,318.4 L643.6,318.3 L644.9,318.1 L646.2,318.0 L647.5,317.9 L647.7,317.9 L647.2,320.2 L646.7,322.4 L646.2,324.7 L645.7,327.0 L645.1,329.3 L644.5,331.6 L643.8,333.9 L643.1,336.1 L642.3,338.4 L641.5,340.7 L640.7,343.0 L639.8,345.3 L639.0,347.5 L638.2,349.8 L637.4,352.1 L636.5,354.4 L635.7,356.7 L634.9,358.9 L634.0,361.2 L633.1,363.5 L632.2,365.8 L631.3,368.1 L630.3,370.4 L629.2,372.6 L628.1,374.9 L627.0,377.2 L625.8,379.5 L624.5,381.8 L623.1,384.0 L621.7,386.3 L620.2,388.6 L618.7,390.9 L617.1,393.2 L615.4,395.4 L613.5,397.7 L611.4,400.0 L608.9,402.3 L605.7,404.6 L597.9,406.9 L596.5,407.9 L595.1,408.9 L593.7,410.0 L592.4,411.0 L591.0,412.0 L589.6,413.0 L588.2,413.9 L586.9,414.9 L585.5,415.8 L584.1,416.8 L582.7,417.7 L581.4,418.6 L580.0,419.4 L578.6,420.3 L577.2,421.1 L575.8,422.0 L574.5,422.8 L573.1,423.5 L571.7,424.3 L570.3,425.1 L569.0,425.8 L567.6,426.5 L566.2,427.2 L564.8,427.9 L563.5,428.5 L562.1,429.1 L560.7,429.7 L559.3,430.3 L558.0,430.9 L556.6,431.4 L555.2,431.9 L553.8,432.4 L552.5,432.8 L551.1,433.2 L549.7,433.5 L548.3,433.9 L547.0,434.1 L545.6,434.3 L544.2,434.5 L542.2,434.0 L540.2,433.5 L538.1,433.0 L536.1,432.3 L534.1,431.6 L532.1,430.9 L530.0,430.0 L528.0,429.0 L526.0,428.0 L524.0,426.9 L522.0,425.7 L519.9,424.5 L517.9,423.2 L515.9,421.9 L513.9,420.6 L511.8,419.2 L509.8,417.9 L507.8,416.7 L505.8,415.4 L503.8,414.3 L501.7,413.2 L499.7,412.2 L497.7,411.2 L495.7,410.4 L493.6,409.6 L491.6,408.9 L489.6,408.3 L487.6,407.7 L485.5,407.2 L483.5,406.8 L481.5,406.4 L479.5,406.1 L477.5,405.8 L475.4,405.6 L473.4,405.4 L471.4,405.2 L469.4,405.0 L467.3,404.9 L465.3,404.8 L463.3,404.7 L461.3,404.6 L459.2,404.5 L457.2,404.5 L455.2,404.4 L453.2,404.4 L451.2,404.3 L449.1,404.3 L447.1,404.3 L445.1,404.3 L443.1,404.2 L441.0,404.2 L439.0,404.2 L437.0,404.2 L435.0,404.2 L432.9,404.2 L430.9,404.2 L428.9,404.2 L426.9,404.2 L424.9,404.2 L422.8,404.2 L420.8,404.1 L418.8,404.1 L416.8,404.1 L414.7,404.1 L412.7,404.1 L410.7,404.1 L408.7,404.1 L406.7,404.1 L404.6,404.1 L402.6,404.1 L400.6,404.1 L398.6,404.1 L396.5,404.1 L394.5,404.1 L392.5,404.1 L390.5,404.1 L388.4,404.1 L386.4,404.1 L384.4,404.1" fill="none" stroke="#008000" stroke-width="1.3" stroke-linejoin="round" stroke-linecap="round"/>
<path d="M384.4,406.0 L385.7,405.1 L387.0,404.1 L388.4,403.3 L389.7,402.5 L391.0,401.8 L392.3,401.2 L393.7,400.6 L395.0,400.1 L396.3,399.6 L397.6,399.1 L398.9,398.6 L400.3,398.2 L401.6,397.8 L402.9,397.4 L404.2,397.1 L405.5,396.7 L406.9,396.4 L408.2,396.1 L409.5,395.9 L410.8,395.6 L412.2,395.3 L413.5,395.1 L414.8,394.8 L416.1,394.6 L417.4,394.4 L418.8,394.1 L420.1,393.9 L421.4,393.7 L422.7,393.5 L424.1,393.3 L425.4,393.1 L426.7,392.9 L428.0,392.7 L429.3,392.5 L430.7,392.3 L432.0,392.1 L433.3,391.9 L434.6,391.7 L435.9,391.5 L437.3,391.4 L438.6,391.2 L439.9,391.0 L441.2,390.8 L442.6,390.6 L443.9,390.4 L445.2,390.3 L446.5,390.1 L447.8,389.9 L449.2,389.8 L450.5,389.6 L451.8,389.5 L453.1,389.3 L454.4,389.2 L455.8,389.1 L457.1,388.9 L458.4,388.8 L459.7,388.7 L461.1,388.6 L462.4,388.5 L463.7,388.4 L465.0,388.3 L466.3,388.2 L467.7,388.1 L469.0,388.0 L470.3,387.9 L471.6,387.9 L473.0,387.8 L474.3,387.7 L475.6,387.6 L476.9,387.6 L478.2,387.5 L479.6,387.4 L480.9,387.4 L482.2,387.3 L483.5,387.2 L484.8,387.2 L486.2,387.1 L487.5,387.1 L488.8,387.0 L490.1,387.0 L491.5,386.9 L492.8,386.9 L494.1,386.8 L495.4,386.8 L496.7,386.8 L498.1,386.7 L499.4,386.7 L500.7,386.7 L502.0,386.6 L503.4,386.6 L504.7,386.5 L506.0,386.5 L507.3,386.4 L508.6,386.3 L510.0,386.2 L511.3,386.1 L512.6,385.9 L513.9,385.6 L515.2,385.3 L516.6,384.9 L517.9,384.4 L519.2,383.9 L520.5,383.3 L521.9,382.6 L523.2,381.9 L524.5,381.2 L525.8,380.4 L527.1,379.5 L528.5,378.4 L529.8,377.2 L531.1,375.8 L532.4,374.3 L533.8,372.8 L535.1,371.1 L536.4,369.4 L537.7,367.7 L539.0,366.1 L540.4,364.5 L541.7,362.9 L543.0,361.4 L544.3,359.9 L545.6,358.5 L547.0,357.0 L548.3,355.7 L549.6,354.3 L550.9,353.0 L552.3,351.7 L553.6,350.4 L554.9,349.2 L556.2,348.0 L557.5,346.9 L558.9,345.7 L560.2,344.6 L561.5,343.5 L562.8,342.4 L564.2,341.4 L565.5,340.4 L566.8,339.4 L568.1,338.4 L569.4,337.5 L570.8,336.6 L572.1,335.7 L573.4,334.8 L574.7,333.9 L576.0,333.1 L577.4,332.3 L578.7,331.5 L580.0,330.7 L581.3,329.9 L582.7,329.2 L584.0,328.4 L585.3,327.7 L586.6,327.0 L587.9,326.4 L589.3,325.7 L590.6,325.1 L591.9,324.4 L593.2,323.8 L594.5,323.2 L595.9,322.6 L597.2,322.0 L598.5,321.5 L599.8,320.9 L601.2,320.4 L602.5,319.9 L603.8,319.3 L605.1,318.8 L606.4,318.3 L607.8,317.9 L609.1,317.4 L610.4,316.9 L611.7,316.5 L613.1,316.1 L614.4,315.6 L615.7,315.2 L617.0,314.8 L618.3,314.4 L619.7,314.0 L621.0,313.6 L622.3,313.3 L623.6,312.9 L624.9,312.5 L626.3,312.2 L627.6,311.8 L628.9,311.5 L630.2,311.2 L631.6,310.9 L632.9,310.5 L634.2,310.2 L635.5,309.9 L636.8,309.7 L638.2,309.4 L639.5,309.1 L640.8,308.8 L642.1,308.5 L643.5,308.3 L644.8,308.0 L646.1,307.8 L647.4,307.5 L647.5,307.5 L647.1,310.1 L646.7,312.6 L646.2,315.2 L645.6,317.7 L645.1,320.3 L644.5,322.8 L643.8,325.3 L643.0,327.9 L642.3,330.4 L641.4,333.0 L640.5,335.5 L639.6,338.1 L638.7,340.6 L637.8,343.2 L637.0,345.7 L636.2,348.3 L635.3,350.8 L634.5,353.4 L633.6,355.9 L632.6,358.5 L631.7,361.0 L630.7,363.6 L629.7,366.1 L628.7,368.6 L627.5,371.2 L626.3,373.7 L625.1,376.3 L623.7,378.8 L622.2,381.4 L620.8,383.9 L619.3,386.5 L617.7,389.0 L616.1,391.6 L614.4,394.1 L612.5,396.7 L610.4,399.2 L608.0,401.8 L604.9,404.3 L597.9,406.9 L596.4,408.1 L595.0,409.4 L593.5,410.6 L592.0,411.8 L590.6,413.0 L589.1,414.2 L587.7,415.3 L586.2,416.5 L584.8,417.6 L583.3,418.7 L581.9,419.8 L580.4,420.8 L579.0,421.9 L577.5,422.9 L576.1,423.9 L574.6,424.9 L573.2,425.9 L571.7,426.8 L570.2,427.7 L568.8,428.6 L567.3,429.5 L565.9,430.4 L564.4,431.2 L563.0,432.0 L561.5,432.8 L560.1,433.5 L558.6,434.2 L557.2,434.9 L555.7,435.6 L554.3,436.2 L552.8,436.8 L551.4,437.3 L549.9,437.9 L548.5,438.3 L547.0,438.8 L545.5,439.1 L544.1,439.5 L542.6,439.7 L541.2,439.9 L539.2,439.4 L537.2,438.9 L535.2,438.3 L533.2,437.7 L531.3,436.9 L529.3,436.1 L527.3,435.2 L525.3,434.1 L523.3,433.0 L521.3,431.8 L519.4,430.5 L517.4,429.1 L515.4,427.6 L513.4,426.1 L511.4,424.6 L509.4,423.1 L507.4,421.6 L505.5,420.1 L503.5,418.7 L501.5,417.3 L499.5,416.1 L497.5,414.9 L495.5,413.8 L493.6,412.9 L491.6,412.0 L489.6,411.2 L487.6,410.5 L485.6,409.9 L483.6,409.3 L481.6,408.9 L479.7,408.5 L477.7,408.1 L475.7,407.8 L473.7,407.5 L471.7,407.3 L469.7,407.1 L467.8,407.0 L465.8,406.8 L463.8,406.7 L461.8,406.6 L459.8,406.5 L457.8,406.4 L455.8,406.4 L453.9,406.3 L451.9,406.3 L449.9,406.2 L447.9,406.2 L445.9,406.2 L443.9,406.2 L442.0,406.1 L440.0,406.1 L438.0,406.1 L436.0,406.1 L434.0,406.1 L432.0,406.1 L430.0,406.1 L428.1,406.1 L426.1,406.1 L424.1,406.1 L422.1,406.1 L420.1,406.1 L418.1,406.1 L416.2,406.1 L414.2,406.0 L412.2,406.0 L410.2,406.0 L408.2,406.0 L406.2,406.0 L404.2,406.0 L402.3,406.0 L400.3,406.0 L398.3,406.0 L396.3,406.0 L394.3,406.0 L392.3,406.0 L390.4,406.0 L388.4,406.0 L386.4,406.0 L384.4,406.0" fill="none" stroke="#2828a8" stroke-width="1.3" stroke-linejoin="round" stroke-linecap="round"/>
<path d="M384.4,408.2 L385.7,407.1 L387.0,406.0 L388.4,405.1 L389.7,404.2 L391.0,403.5 L392.3,402.8 L393.6,402.2 L395.0,401.6 L396.3,401.0 L397.6,400.5 L398.9,399.9 L400.3,399.5 L401.6,399.0 L402.9,398.6 L404.2,398.2 L405.5,397.8 L406.9,397.5 L408.2,397.2 L409.5,396.9 L410.8,396.6 L412.1,396.3 L413.5,396.0 L414.8,395.7 L416.1,395.5 L417.4,395.2 L418.7,395.0 L420.1,394.7 L421.4,394.5 L422.7,394.2 L424.0,394.0 L425.4,393.8 L426.7,393.6 L428.0,393.4 L429.3,393.1 L430.6,392.9 L432.0,392.7 L433.3,392.5 L434.6,392.3 L435.9,392.1 L437.2,391.9 L438.6,391.6 L439.9,391.4 L441.2,391.2 L442.5,391.0 L443.8,390.8 L445.2,390.7 L446.5,390.5 L447.8,390.3 L449.1,390.1 L450.5,389.9 L451.8,389.8 L453.1,389.6 L454.4,389.5 L455.7,389.3 L457.1,389.2 L458.4,389.0 L459.7,388.9 L461.0,388.8 L462.3,388.7 L463.7,388.6 L465.0,388.5 L466.3,388.4 L467.6,388.3 L468.9,388.2 L470.3,388.1 L471.6,388.0 L472.9,387.9 L474.2,387.8 L475.6,387.7 L476.9,387.6 L478.2,387.6 L479.5,387.5 L480.8,387.4 L482.2,387.4 L483.5,387.3 L484.8,387.2 L486.1,387.2 L487.4,387.1 L488.8,387.0 L490.1,387.0 L491.4,386.9 L492.7,386.9 L494.0,386.8 L495.4,386.8 L496.7,386.8 L498.0,386.7 L499.3,386.7 L500.7,386.7 L502.0,386.6 L503.3,386.6 L504.6,386.5 L505.9,386.5 L507.3,386.4 L508.6,386.3 L509.9,386.2 L511.2,386.1 L512.5,385.9 L513.9,385.7 L515.2,385.3 L516.5,385.0 L517.8,384.5 L519.1,384.0 L520.5,383.4 L521.8,382.7 L523.1,382.0 L524.4,381.3 L525.8,380.5 L527.1,379.6 L528.4,378.6 L529.7,377.3 L531.0,375.9 L532.4,374.3 L533.7,372.6 L535.0,370.8 L536.3,368.8 L537.6,366.9 L539.0,365.0 L540.3,363.2 L541.6,361.3 L542.9,359.6 L544.2,357.9 L545.6,356.2 L546.9,354.6 L548.2,353.0 L549.5,351.5 L550.9,350.0 L552.2,348.5 L553.5,347.1 L554.8,345.7 L556.1,344.3 L557.5,343.0 L558.8,341.7 L560.1,340.5 L561.4,339.3 L562.7,338.1 L564.1,336.9 L565.4,335.8 L566.7,334.7 L568.0,333.6 L569.3,332.6 L570.7,331.6 L572.0,330.6 L573.3,329.6 L574.6,328.7 L576.0,327.8 L577.3,326.9 L578.6,326.0 L579.9,325.1 L581.2,324.3 L582.6,323.5 L583.9,322.7 L585.2,321.9 L586.5,321.2 L587.8,320.4 L589.2,319.7 L590.5,319.0 L591.8,318.3 L593.1,317.7 L594.5,317.0 L595.8,316.4 L597.1,315.8 L598.4,315.2 L599.7,314.6 L601.1,314.0 L602.4,313.4 L603.7,312.9 L605.0,312.3 L606.3,311.8 L607.7,311.3 L609.0,310.8 L610.3,310.3 L611.6,309.8 L612.9,309.4 L614.3,308.9 L615.6,308.5 L616.9,308.0 L618.2,307.6 L619.6,307.2 L620.9,306.8 L622.2,306.4 L623.5,306.0 L624.8,305.6 L626.2,305.2 L627.5,304.8 L628.8,304.5 L630.1,304.1 L631.4,303.8 L632.8,303.4 L634.1,303.1 L635.4,302.8 L636.7,302.5 L638.0,302.2 L639.4,301.8 L640.7,301.5 L642.0,301.3 L643.3,301.0 L644.7,300.7 L646.0,300.4 L647.3,300.1 L647.4,300.1 L647.0,302.9 L646.6,305.6 L646.2,308.3 L645.7,311.1 L645.2,313.8 L644.6,316.5 L643.8,319.3 L643.1,322.0 L642.2,324.7 L641.3,327.5 L640.3,330.2 L639.3,333.0 L638.3,335.7 L637.4,338.4 L636.6,341.2 L635.7,343.9 L634.8,346.6 L633.9,349.4 L633.0,352.1 L632.1,354.9 L631.1,357.6 L630.1,360.3 L629.1,363.1 L628.0,365.8 L626.8,368.5 L625.5,371.3 L624.2,374.0 L622.7,376.7 L621.1,379.5 L619.6,382.2 L618.0,385.0 L616.4,387.7 L614.8,390.4 L613.1,393.2 L611.2,395.9 L609.1,398.6 L606.8,401.4 L603.9,404.1 L597.9,406.9 L596.3,408.3 L594.8,409.8 L593.3,411.2 L591.7,412.6 L590.2,414.0 L588.6,415.4 L587.1,416.7 L585.6,418.0 L584.0,419.3 L582.5,420.6 L581.0,421.9 L579.4,423.1 L577.9,424.3 L576.4,425.5 L574.8,426.7 L573.3,427.9 L571.8,429.0 L570.2,430.1 L568.7,431.1 L567.1,432.2 L565.6,433.2 L564.1,434.2 L562.5,435.2 L561.0,436.1 L559.5,437.0 L557.9,437.9 L556.4,438.7 L554.9,439.5 L553.3,440.3 L551.8,441.0 L550.3,441.7 L548.7,442.3 L547.2,442.9 L545.7,443.5 L544.1,444.0 L542.6,444.4 L541.0,444.8 L539.5,445.1 L538.0,445.2 L536.0,444.8 L534.1,444.3 L532.1,443.7 L530.2,443.1 L528.3,442.3 L526.3,441.4 L524.4,440.5 L522.4,439.4 L520.5,438.2 L518.5,436.8 L516.6,435.4 L514.6,433.9 L512.7,432.3 L510.8,430.6 L508.8,428.9 L506.9,427.1 L504.9,425.4 L503.0,423.7 L501.0,422.1 L499.1,420.6 L497.2,419.1 L495.2,417.8 L493.3,416.6 L491.3,415.5 L489.4,414.5 L487.4,413.6 L485.5,412.8 L483.5,412.2 L481.6,411.6 L479.7,411.1 L477.7,410.6 L475.8,410.2 L473.8,409.9 L471.9,409.6 L469.9,409.4 L468.0,409.2 L466.0,409.1 L464.1,408.9 L462.2,408.8 L460.2,408.7 L458.3,408.6 L456.3,408.5 L454.4,408.5 L452.4,408.4 L450.5,408.4 L448.6,408.3 L446.6,408.3 L444.7,408.3 L442.7,408.3 L440.8,408.2 L438.8,408.2 L436.9,408.2 L434.9,408.2 L433.0,408.2 L431.1,408.2 L429.1,408.2 L427.2,408.2 L425.2,408.2 L423.3,408.2 L421.3,408.2 L419.4,408.2 L417.4,408.2 L415.5,408.2 L413.6,408.2 L411.6,408.2 L409.7,408.2 L407.7,408.2 L405.8,408.2 L403.8,408.2 L401.9,408.2 L400.0,408.2 L398.0,408.2 L396.1,408.2 L394.1,408.2 L392.2,408.2 L390.2,408.2 L388.3,408.2 L386.3,408.2 L384.4,408.2" fill="none" stroke="#ff8000" stroke-width="1.3" stroke-linejoin="round" stroke-linecap="round"/>
<path d="M384.4,410.0 L385.7,408.8 L387.0,407.7 L388.4,406.7 L389.7,405.7 L391.0,404.9 L392.3,404.2 L393.6,403.5 L395.0,402.8 L396.3,402.2 L397.6,401.6 L398.9,401.1 L400.2,400.5 L401.6,400.0 L402.9,399.6 L404.2,399.2 L405.5,398.8 L406.8,398.4 L408.2,398.1 L409.5,397.7 L410.8,397.4 L412.1,397.1 L413.5,396.8 L414.8,396.5 L416.1,396.2 L417.4,395.9 L418.7,395.7 L420.1,395.4 L421.4,395.1 L422.7,394.9 L424.0,394.6 L425.3,394.4 L426.7,394.2 L428.0,393.9 L429.3,393.7 L430.6,393.4 L431.9,393.2 L433.3,393.0 L434.6,392.8 L435.9,392.5 L437.2,392.3 L438.5,392.1 L439.9,391.8 L441.2,391.6 L442.5,391.4 L443.8,391.2 L445.1,391.0 L446.5,390.8 L447.8,390.6 L449.1,390.4 L450.4,390.2 L451.7,390.0 L453.1,389.9 L454.4,389.7 L455.7,389.5 L457.0,389.4 L458.3,389.2 L459.7,389.1 L461.0,389.0 L462.3,388.8 L463.6,388.7 L465.0,388.6 L466.3,388.5 L467.6,388.4 L468.9,388.3 L470.2,388.2 L471.6,388.1 L472.9,388.0 L474.2,387.9 L475.5,387.8 L476.8,387.7 L478.2,387.6 L479.5,387.6 L480.8,387.5 L482.1,387.4 L483.4,387.3 L484.8,387.3 L486.1,387.2 L487.4,387.1 L488.7,387.1 L490.0,387.0 L491.4,386.9 L492.7,386.9 L494.0,386.9 L495.3,386.8 L496.6,386.8 L498.0,386.7 L499.3,386.7 L500.6,386.7 L501.9,386.6 L503.2,386.6 L504.6,386.6 L505.9,386.5 L507.2,386.4 L508.5,386.3 L509.9,386.2 L511.2,386.1 L512.5,385.9 L513.8,385.7 L515.1,385.4 L516.5,385.0 L517.8,384.5 L519.1,384.0 L520.4,383.4 L521.7,382.8 L523.1,382.1 L524.4,381.4 L525.7,380.6 L527.0,379.7 L528.3,378.7 L529.7,377.5 L531.0,376.0 L532.3,374.4 L533.6,372.6 L534.9,370.6 L536.3,368.5 L537.6,366.3 L538.9,364.1 L540.2,362.0 L541.5,359.9 L542.9,357.9 L544.2,356.0 L545.5,354.1 L546.8,352.3 L548.1,350.5 L549.5,348.8 L550.8,347.2 L552.1,345.6 L553.4,344.0 L554.7,342.5 L556.1,341.1 L557.4,339.6 L558.7,338.3 L560.0,336.9 L561.4,335.6 L562.7,334.4 L564.0,333.1 L565.3,332.0 L566.6,330.8 L568.0,329.7 L569.3,328.6 L570.6,327.5 L571.9,326.5 L573.2,325.4 L574.6,324.5 L575.9,323.5 L577.2,322.6 L578.5,321.6 L579.8,320.8 L581.2,319.9 L582.5,319.0 L583.8,318.2 L585.1,317.4 L586.4,316.6 L587.8,315.8 L589.1,315.1 L590.4,314.3 L591.7,313.6 L593.0,312.9 L594.4,312.2 L595.7,311.5 L597.0,310.8 L598.3,310.2 L599.6,309.5 L601.0,308.9 L602.3,308.3 L603.6,307.7 L604.9,307.1 L606.2,306.5 L607.6,305.9 L608.9,305.3 L610.2,304.8 L611.5,304.2 L612.9,303.7 L614.2,303.2 L615.5,302.6 L616.8,302.1 L618.1,301.6 L619.5,301.1 L620.8,300.6 L622.1,300.1 L623.4,299.6 L624.7,299.1 L626.1,298.7 L627.4,298.2 L628.7,297.7 L630.0,297.3 L631.3,296.8 L632.7,296.4 L634.0,295.9 L635.3,295.5 L636.6,295.1 L637.9,294.6 L639.3,294.2 L640.6,293.8 L641.9,293.4 L643.2,292.9 L644.5,292.5 L645.9,292.1 L647.2,291.7 L647.2,291.7 L647.0,294.7 L646.6,297.6 L646.2,300.6 L645.7,303.5 L645.3,306.5 L644.6,309.4 L643.9,312.4 L643.1,315.3 L642.2,318.3 L641.2,321.2 L640.1,324.2 L639.0,327.1 L638.0,330.1 L637.0,333.0 L636.1,336.0 L635.2,338.9 L634.3,341.9 L633.4,344.8 L632.5,347.8 L631.5,350.8 L630.5,353.7 L629.5,356.7 L628.4,359.6 L627.3,362.6 L626.0,365.5 L624.7,368.5 L623.3,371.4 L621.7,374.4 L620.0,377.3 L618.4,380.3 L616.8,383.2 L615.1,386.2 L613.4,389.1 L611.7,392.1 L609.9,395.0 L607.8,398.0 L605.5,400.9 L602.8,403.9 L597.9,406.9 L596.3,408.5 L594.7,410.1 L593.1,411.8 L591.5,413.4 L589.9,414.9 L588.3,416.5 L586.7,418.0 L585.1,419.5 L583.5,421.0 L581.9,422.4 L580.3,423.8 L578.7,425.3 L577.1,426.6 L575.5,428.0 L573.9,429.3 L572.3,430.6 L570.7,431.9 L569.1,433.1 L567.5,434.3 L565.9,435.5 L564.3,436.6 L562.7,437.8 L561.1,438.8 L559.5,439.9 L557.9,440.9 L556.3,441.9 L554.7,442.8 L553.1,443.7 L551.5,444.6 L549.9,445.4 L548.3,446.2 L546.7,446.9 L545.1,447.6 L543.5,448.3 L541.9,448.8 L540.3,449.3 L538.7,449.7 L537.1,450.1 L535.5,450.2 L533.6,449.8 L531.7,449.3 L529.8,448.8 L527.9,448.1 L526.0,447.3 L524.0,446.4 L522.1,445.4 L520.2,444.3 L518.3,443.0 L516.4,441.6 L514.5,440.0 L512.6,438.3 L510.7,436.6 L508.7,434.7 L506.8,432.8 L504.9,430.8 L503.0,428.9 L501.1,427.0 L499.2,425.2 L497.3,423.4 L495.3,421.8 L493.4,420.3 L491.5,418.9 L489.6,417.7 L487.7,416.6 L485.8,415.6 L483.9,414.8 L482.0,414.1 L480.0,413.4 L478.1,412.9 L476.2,412.4 L474.3,412.0 L472.4,411.7 L470.5,411.4 L468.6,411.2 L466.7,411.0 L464.7,410.8 L462.8,410.7 L460.9,410.6 L459.0,410.5 L457.1,410.4 L455.2,410.3 L453.3,410.3 L451.4,410.2 L449.4,410.2 L447.5,410.2 L445.6,410.1 L443.7,410.1 L441.8,410.1 L439.9,410.1 L438.0,410.1 L436.0,410.0 L434.1,410.0 L432.2,410.0 L430.3,410.0 L428.4,410.0 L426.5,410.0 L424.6,410.0 L422.7,410.0 L420.7,410.0 L418.8,410.0 L416.9,410.0 L415.0,410.0 L413.1,410.0 L411.2,410.0 L409.3,410.0 L407.4,410.0 L405.4,410.0 L403.5,410.0 L401.6,410.0 L399.7,410.0 L397.8,410.0 L395.9,410.0 L394.0,410.0 L392.1,410.0 L390.1,410.0 L388.2,410.0 L386.3,410.0 L384.4,410.0" fill="none" stroke="#800080" stroke-width="1.3" stroke-linejoin="round" stroke-linecap="round"/>
<path d="M384.4,411.5 L385.7,410.3 L387.0,409.1 L388.4,408.0 L389.7,407.0 L391.0,406.1 L392.3,405.3 L393.6,404.6 L395.0,403.9 L396.3,403.3 L397.6,402.6 L398.9,402.0 L400.2,401.5 L401.6,400.9 L402.9,400.4 L404.2,400.0 L405.5,399.6 L406.8,399.2 L408.2,398.8 L409.5,398.4 L410.8,398.1 L412.1,397.8 L413.4,397.5 L414.8,397.1 L416.1,396.8 L417.4,396.5 L418.7,396.2 L420.0,396.0 L421.4,395.7 L422.7,395.4 L424.0,395.2 L425.3,394.9 L426.6,394.6 L428.0,394.4 L429.3,394.1 L430.6,393.9 L431.9,393.6 L433.2,393.4 L434.6,393.1 L435.9,392.9 L437.2,392.7 L438.5,392.4 L439.8,392.2 L441.2,391.9 L442.5,391.7 L443.8,391.5 L445.1,391.3 L446.4,391.0 L447.8,390.8 L449.1,390.6 L450.4,390.4 L451.7,390.2 L453.0,390.1 L454.4,389.9 L455.7,389.7 L457.0,389.6 L458.3,389.4 L459.6,389.3 L461.0,389.1 L462.3,389.0 L463.6,388.8 L464.9,388.7 L466.2,388.6 L467.6,388.5 L468.9,388.4 L470.2,388.3 L471.5,388.2 L472.8,388.1 L474.2,388.0 L475.5,387.9 L476.8,387.8 L478.1,387.7 L479.4,387.6 L480.8,387.5 L482.1,387.4 L483.4,387.4 L484.7,387.3 L486.0,387.2 L487.4,387.1 L488.7,387.1 L490.0,387.0 L491.3,387.0 L492.6,386.9 L494.0,386.9 L495.3,386.8 L496.6,386.8 L497.9,386.7 L499.2,386.7 L500.6,386.7 L501.9,386.6 L503.2,386.6 L504.5,386.6 L505.8,386.5 L507.2,386.4 L508.5,386.3 L509.8,386.2 L511.1,386.1 L512.4,385.9 L513.8,385.7 L515.1,385.4 L516.4,385.0 L517.7,384.6 L519.0,384.1 L520.4,383.5 L521.7,382.8 L523.0,382.2 L524.3,381.4 L525.6,380.6 L527.0,379.8 L528.3,378.8 L529.6,377.6 L530.9,376.1 L532.2,374.5 L533.6,372.6 L534.9,370.4 L536.2,368.1 L537.5,365.6 L538.8,363.0 L540.2,360.3 L541.5,357.7 L542.8,355.2 L544.1,352.8 L545.4,350.5 L546.8,348.3 L548.1,346.2 L549.4,344.2 L550.7,342.2 L552.0,340.4 L553.4,338.7 L554.7,337.0 L556.0,335.4 L557.3,333.9 L558.6,332.4 L560.0,331.0 L561.3,329.6 L562.6,328.3 L563.9,327.1 L565.3,325.9 L566.6,324.7 L567.9,323.6 L569.2,322.5 L570.5,321.4 L571.9,320.4 L573.2,319.4 L574.5,318.5 L575.8,317.5 L577.1,316.6 L578.5,315.7 L579.8,314.9 L581.1,314.0 L582.4,313.2 L583.7,312.4 L585.1,311.6 L586.4,310.9 L587.7,310.1 L589.0,309.4 L590.3,308.7 L591.7,308.0 L593.0,307.3 L594.3,306.6 L595.6,305.9 L596.9,305.3 L598.3,304.6 L599.6,304.0 L600.9,303.3 L602.2,302.7 L603.5,302.1 L604.9,301.5 L606.2,300.9 L607.5,300.3 L608.8,299.7 L610.1,299.1 L611.5,298.5 L612.8,297.9 L614.1,297.4 L615.4,296.8 L616.7,296.2 L618.1,295.7 L619.4,295.1 L620.7,294.5 L622.0,294.0 L623.3,293.4 L624.7,292.9 L626.0,292.3 L627.3,291.8 L628.6,291.3 L629.9,290.7 L631.3,290.2 L632.6,289.6 L633.9,289.1 L635.2,288.6 L636.5,288.0 L637.9,287.5 L639.2,287.0 L640.5,286.5 L641.8,285.9 L643.1,285.4 L644.5,284.9 L645.8,284.4 L647.1,283.9 L647.1,283.9 L646.9,287.0 L646.6,290.2 L646.3,293.3 L645.8,296.5 L645.4,299.6 L644.8,302.8 L644.0,305.9 L643.1,309.1 L642.2,312.2 L641.2,315.4 L640.0,318.5 L638.7,321.7 L637.6,324.9 L636.6,328.0 L635.7,331.2 L634.8,334.3 L633.9,337.5 L632.9,340.6 L631.9,343.8 L630.9,346.9 L629.9,350.1 L628.9,353.2 L627.8,356.4 L626.6,359.5 L625.3,362.7 L623.9,365.9 L622.4,369.0 L620.7,372.2 L618.9,375.3 L617.2,378.5 L615.5,381.6 L613.8,384.8 L612.1,387.9 L610.4,391.1 L608.5,394.2 L606.5,397.4 L604.3,400.5 L601.8,403.7 L597.9,406.9 L596.2,408.7 L594.5,410.5 L592.9,412.2 L591.2,414.0 L589.5,415.7 L587.9,417.4 L586.2,419.1 L584.5,420.7 L582.9,422.3 L581.2,423.9 L579.5,425.5 L577.9,427.0 L576.2,428.5 L574.5,430.0 L572.9,431.5 L571.2,432.9 L569.5,434.3 L567.9,435.6 L566.2,437.0 L564.5,438.3 L562.9,439.5 L561.2,440.8 L559.5,441.9 L557.9,443.1 L556.2,444.2 L554.5,445.3 L552.9,446.3 L551.2,447.3 L549.5,448.3 L547.9,449.2 L546.2,450.0 L544.5,450.8 L542.9,451.6 L541.2,452.3 L539.5,452.9 L537.9,453.4 L536.2,453.9 L534.5,454.3 L532.9,454.5 L531.0,454.1 L529.1,453.6 L527.2,453.0 L525.4,452.4 L523.5,451.6 L521.6,450.7 L519.7,449.7 L517.8,448.5 L516.0,447.2 L514.1,445.7 L512.2,444.1 L510.3,442.3 L508.4,440.4 L506.6,438.4 L504.7,436.3 L502.8,434.2 L500.9,432.0 L499.0,429.9 L497.2,427.9 L495.3,426.0 L493.4,424.2 L491.5,422.5 L489.6,421.0 L487.8,419.6 L485.9,418.5 L484.0,417.4 L482.1,416.5 L480.3,415.7 L478.4,415.0 L476.5,414.5 L474.6,414.0 L472.7,413.6 L470.9,413.2 L469.0,413.0 L467.1,412.7 L465.2,412.5 L463.3,412.3 L461.5,412.2 L459.6,412.1 L457.7,412.0 L455.8,411.9 L453.9,411.9 L452.1,411.8 L450.2,411.8 L448.3,411.7 L446.4,411.7 L444.5,411.7 L442.7,411.6 L440.8,411.6 L438.9,411.6 L437.0,411.6 L435.1,411.6 L433.3,411.6 L431.4,411.6 L429.5,411.6 L427.6,411.6 L425.7,411.6 L423.9,411.5 L422.0,411.5 L420.1,411.5 L418.2,411.5 L416.4,411.5 L414.5,411.5 L412.6,411.5 L410.7,411.5 L408.8,411.5 L407.0,411.5 L405.1,411.5 L403.2,411.5 L401.3,411.5 L399.4,411.5 L397.6,411.5 L395.7,411.5 L393.8,411.5 L391.9,411.5 L390.0,411.5 L388.2,411.5 L386.3,411.5 L384.4,411.5" fill="none" stroke="#8000ff" stroke-width="1.3" stroke-linejoin="round" stroke-linecap="round"/>
<path d="M384.4,413.7 L385.7,412.3 L387.0,411.0 L388.4,409.8 L389.7,408.7 L391.0,407.8 L392.3,406.9 L393.6,406.1 L395.0,405.4 L396.3,404.7 L397.6,404.0 L398.9,403.3 L400.2,402.7 L401.6,402.1 L402.9,401.6 L404.2,401.1 L405.5,400.7 L406.8,400.2 L408.2,399.8 L409.5,399.4 L410.8,399.1 L412.1,398.7 L413.4,398.4 L414.7,398.0 L416.1,397.7 L417.4,397.4 L418.7,397.1 L420.0,396.8 L421.3,396.5 L422.7,396.2 L424.0,395.9 L425.3,395.6 L426.6,395.3 L427.9,395.0 L429.3,394.8 L430.6,394.5 L431.9,394.2 L433.2,394.0 L434.5,393.7 L435.9,393.4 L437.2,393.2 L438.5,392.9 L439.8,392.6 L441.1,392.4 L442.5,392.1 L443.8,391.9 L445.1,391.6 L446.4,391.4 L447.7,391.2 L449.1,391.0 L450.4,390.8 L451.7,390.5 L453.0,390.3 L454.3,390.2 L455.7,390.0 L457.0,389.8 L458.3,389.6 L459.6,389.5 L460.9,389.3 L462.2,389.2 L463.6,389.0 L464.9,388.9 L466.2,388.7 L467.5,388.6 L468.8,388.5 L470.2,388.4 L471.5,388.3 L472.8,388.2 L474.1,388.1 L475.4,388.0 L476.8,387.9 L478.1,387.8 L479.4,387.7 L480.7,387.6 L482.0,387.5 L483.4,387.4 L484.7,387.3 L486.0,387.2 L487.3,387.2 L488.6,387.1 L490.0,387.0 L491.3,387.0 L492.6,386.9 L493.9,386.9 L495.2,386.8 L496.6,386.8 L497.9,386.7 L499.2,386.7 L500.5,386.7 L501.8,386.6 L503.2,386.6 L504.5,386.6 L505.8,386.5 L507.1,386.4 L508.4,386.3 L509.7,386.2 L511.1,386.1 L512.4,385.9 L513.7,385.7 L515.0,385.4 L516.3,385.1 L517.7,384.6 L519.0,384.1 L520.3,383.5 L521.6,382.9 L522.9,382.2 L524.3,381.5 L525.6,380.7 L526.9,379.8 L528.2,378.8 L529.5,377.6 L530.9,376.2 L532.2,374.6 L533.5,372.7 L534.8,370.6 L536.1,368.3 L537.5,365.7 L538.8,363.1 L540.1,360.3 L541.4,357.5 L542.7,354.8 L544.1,352.1 L545.4,349.4 L546.7,346.8 L548.0,344.3 L549.3,341.9 L550.7,339.7 L552.0,337.5 L553.3,335.5 L554.6,333.6 L555.9,331.7 L557.2,330.0 L558.6,328.3 L559.9,326.7 L561.2,325.2 L562.5,323.8 L563.8,322.5 L565.2,321.3 L566.5,320.1 L567.8,319.0 L569.1,317.9 L570.4,316.9 L571.8,315.9 L573.1,314.9 L574.4,314.0 L575.7,313.1 L577.0,312.3 L578.4,311.4 L579.7,310.6 L581.0,309.8 L582.3,309.0 L583.6,308.2 L585.0,307.4 L586.3,306.6 L587.6,305.8 L588.9,305.0 L590.2,304.3 L591.6,303.5 L592.9,302.7 L594.2,302.0 L595.5,301.2 L596.8,300.5 L598.2,299.8 L599.5,299.1 L600.8,298.4 L602.1,297.8 L603.4,297.1 L604.7,296.4 L606.1,295.7 L607.4,295.1 L608.7,294.4 L610.0,293.7 L611.3,293.0 L612.7,292.4 L614.0,291.7 L615.3,291.0 L616.6,290.4 L617.9,289.8 L619.3,289.1 L620.6,288.5 L621.9,287.9 L623.2,287.2 L624.5,286.6 L625.9,286.0 L627.2,285.4 L628.5,284.8 L629.8,284.2 L631.1,283.6 L632.5,283.1 L633.8,282.5 L635.1,281.9 L636.4,281.3 L637.7,280.8 L639.1,280.2 L640.4,279.6 L641.7,279.1 L643.0,278.5 L644.3,278.0 L645.7,277.4 L647.0,276.9 L647.0,276.9 L646.9,280.2 L646.7,283.5 L646.4,286.9 L646.0,290.2 L645.6,293.5 L645.0,296.9 L644.2,300.2 L643.2,303.5 L642.3,306.9 L641.1,310.2 L639.7,313.5 L638.4,316.9 L637.1,320.2 L636.1,323.5 L635.1,326.9 L634.1,330.2 L633.2,333.5 L632.2,336.9 L631.1,340.2 L630.1,343.5 L629.0,346.9 L627.9,350.2 L626.8,353.5 L625.5,356.9 L624.1,360.2 L622.6,363.5 L621.0,366.9 L619.1,370.2 L617.2,373.5 L615.4,376.9 L613.6,380.2 L611.8,383.5 L610.0,386.9 L608.3,390.2 L606.5,393.5 L604.5,396.9 L602.4,400.2 L600.2,403.5 L597.9,406.9 L596.1,408.9 L594.4,410.9 L592.7,412.9 L590.9,414.9 L589.2,416.8 L587.5,418.7 L585.7,420.6 L584.0,422.4 L582.3,424.2 L580.5,426.0 L578.8,427.8 L577.0,429.5 L575.3,431.2 L573.6,432.8 L571.8,434.5 L570.1,436.1 L568.4,437.6 L566.6,439.2 L564.9,440.6 L563.2,442.1 L561.4,443.5 L559.7,444.9 L558.0,446.2 L556.2,447.5 L554.5,448.8 L552.8,450.0 L551.0,451.1 L549.3,452.3 L547.6,453.3 L545.8,454.3 L544.1,455.3 L542.4,456.2 L540.6,457.0 L538.9,457.8 L537.2,458.5 L535.4,459.1 L533.7,459.6 L532.0,460.0 L530.2,460.2 L528.4,459.9 L526.5,459.5 L524.7,458.9 L522.8,458.3 L521.0,457.6 L519.2,456.7 L517.3,455.7 L515.5,454.5 L513.6,453.1 L511.8,451.6 L509.9,449.8 L508.1,447.9 L506.2,445.8 L504.4,443.5 L502.5,441.1 L500.7,438.7 L498.8,436.2 L497.0,433.8 L495.2,431.5 L493.3,429.3 L491.5,427.2 L489.6,425.3 L487.8,423.6 L485.9,422.1 L484.1,420.8 L482.2,419.6 L480.4,418.6 L478.5,417.8 L476.7,417.1 L474.9,416.5 L473.0,416.0 L471.2,415.6 L469.3,415.2 L467.5,414.9 L465.6,414.7 L463.8,414.5 L461.9,414.4 L460.1,414.2 L458.2,414.1 L456.4,414.0 L454.5,414.0 L452.7,413.9 L450.9,413.9 L449.0,413.8 L447.2,413.8 L445.3,413.8 L443.5,413.7 L441.6,413.7 L439.8,413.7 L437.9,413.7 L436.1,413.7 L434.2,413.7 L432.4,413.7 L430.5,413.7 L428.7,413.7 L426.9,413.7 L425.0,413.7 L423.2,413.7 L421.3,413.7 L419.5,413.7 L417.6,413.7 L415.8,413.7 L413.9,413.7 L412.1,413.7 L410.2,413.7 L408.4,413.7 L406.6,413.7 L404.7,413.7 L402.9,413.7 L401.0,413.7 L399.2,413.7 L397.3,413.7 L395.5,413.7 L393.6,413.7 L391.8,413.7 L389.9,413.7 L388.1,413.7 L386.2,413.7 L384.4,413.7" fill="none" stroke="#000000" stroke-width="1.3" stroke-linejoin="round" stroke-linecap="round"/>
<rect x="374.5" y="266.7" width="292.85" height="220.05" fill="none" stroke="#000" stroke-width="1.4"/>
<line x1="372.6" y1="266.85" x2="374.5" y2="266.85" stroke="#000" stroke-width="1"/>
<text x="370.2" y="269.45" font-size="10.5" fill="#000" text-anchor="end" textLength="11.55" lengthAdjust="spacingAndGlyphs">60</text>
<line x1="372.6" y1="306.85" x2="374.5" y2="306.85" stroke="#000" stroke-width="1"/>
<text x="370.2" y="309.45" font-size="10.5" fill="#000" text-anchor="end" textLength="11.55" lengthAdjust="spacingAndGlyphs">40</text>
<line x1="372.6" y1="346.85" x2="374.5" y2="346.85" stroke="#000" stroke-width="1"/>
<text x="370.2" y="349.45" font-size="10.5" fill="#000" text-anchor="end" textLength="11.55" lengthAdjust="spacingAndGlyphs">20</text>
<line x1="372.6" y1="386.85" x2="374.5" y2="386.85" stroke="#000" stroke-width="1"/>
<text x="370.2" y="389.45" font-size="10.5" fill="#000" text-anchor="end" textLength="5.78" lengthAdjust="spacingAndGlyphs">0</text>
<line x1="372.6" y1="426.85" x2="374.5" y2="426.85" stroke="#000" stroke-width="1"/>
<text x="370.2" y="429.45" font-size="10.5" fill="#000" text-anchor="end" textLength="15.4" lengthAdjust="spacingAndGlyphs">-20</text>
<line x1="372.6" y1="466.85" x2="374.5" y2="466.85" stroke="#000" stroke-width="1"/>
<text x="370.2" y="469.45" font-size="10.5" fill="#000" text-anchor="end" textLength="15.4" lengthAdjust="spacingAndGlyphs">-40</text>
<line x1="384.4" y1="486.75" x2="384.4" y2="488.5" stroke="#000" stroke-width="1"/>
<text x="384.4" y="498.4" font-size="10.5" fill="#000" text-anchor="middle" textLength="14.44" lengthAdjust="spacingAndGlyphs">0.0</text>
<line x1="422.17999999999995" y1="486.75" x2="422.17999999999995" y2="488.5" stroke="#000" stroke-width="1"/>
<text x="422.18" y="498.4" font-size="10.5" fill="#000" text-anchor="middle" textLength="14.44" lengthAdjust="spacingAndGlyphs">0.2</text>
<line x1="459.96" y1="486.75" x2="459.96" y2="488.5" stroke="#000" stroke-width="1"/>
<text x="459.96" y="498.4" font-size="10.5" fill="#000" text-anchor="middle" textLength="14.44" lengthAdjust="spacingAndGlyphs">0.4</text>
<line x1="497.74" y1="486.75" x2="497.74" y2="488.5" stroke="#000" stroke-width="1"/>
<text x="497.74" y="498.4" font-size="10.5" fill="#000" text-anchor="middle" textLength="14.44" lengthAdjust="spacingAndGlyphs">0.6</text>
<line x1="535.52" y1="486.75" x2="535.52" y2="488.5" stroke="#000" stroke-width="1"/>
<text x="535.52" y="498.4" font-size="10.5" fill="#000" text-anchor="middle" textLength="14.44" lengthAdjust="spacingAndGlyphs">0.8</text>
<line x1="573.3" y1="486.75" x2="573.3" y2="488.5" stroke="#000" stroke-width="1"/>
<text x="573.3" y="498.4" font-size="10.5" fill="#000" text-anchor="middle" textLength="14.44" lengthAdjust="spacingAndGlyphs">1.0</text>
<line x1="611.08" y1="486.75" x2="611.08" y2="488.5" stroke="#000" stroke-width="1"/>
<text x="611.08" y="498.4" font-size="10.5" fill="#000" text-anchor="middle" textLength="14.44" lengthAdjust="spacingAndGlyphs">1.2</text>
<line x1="648.86" y1="486.75" x2="648.86" y2="488.5" stroke="#000" stroke-width="1"/>
<text x="648.86" y="498.4" font-size="10.5" fill="#000" text-anchor="middle" textLength="14.44" lengthAdjust="spacingAndGlyphs">1.4</text>
<text x="451.5" y="516.0" font-size="17" fill="#000" textLength="126.8" lengthAdjust="spacingAndGlyphs">Cell potential (V)</text>
<text transform="translate(350.5,436.4) rotate(-90)" font-size="13" fill="#000" textLength="134.4" lengthAdjust="spacingAndGlyphs">Current  density (mA/g)</text>
<text x="515.1" y="286.1" font-size="16" fill="#000" textLength="19.3" lengthAdjust="spacingAndGlyphs">(d)</text>
<rect x="386.6" y="269.8" width="110.6" height="103.9" fill="#fff" stroke="#555" stroke-width="1.3"/>
<line x1="392.0" y1="289.1" x2="409.0" y2="289.1" stroke="#000000" stroke-width="1.5"/>
<text x="410.7" y="291.3" font-size="7.2" fill="#000" textLength="24.2" lengthAdjust="spacing">3 mV/s</text>
<line x1="392.0" y1="300.4" x2="409.0" y2="300.4" stroke="#ff0000" stroke-width="1.5"/>
<text x="410.7" y="302.6" font-size="7.2" fill="#000" textLength="24.2" lengthAdjust="spacing">5 mV/s</text>
<line x1="392.0" y1="311.8" x2="409.0" y2="311.8" stroke="#0000ff" stroke-width="1.5"/>
<text x="410.7" y="314.0" font-size="7.2" fill="#000" textLength="28.8" lengthAdjust="spacing">10 mV/s</text>
<line x1="392.0" y1="323.6" x2="409.0" y2="323.6" stroke="#008080" stroke-width="1.5"/>
<text x="410.7" y="325.8" font-size="7.2" fill="#000" textLength="28.8" lengthAdjust="spacing">20 mV/s</text>
<line x1="392.0" y1="335.0" x2="409.0" y2="335.0" stroke="#ff00ff" stroke-width="1.5"/>
<text x="410.7" y="337.2" font-size="7.2" fill="#000" textLength="28.8" lengthAdjust="spacing">30 mV/s</text>
<line x1="392.0" y1="346.6" x2="409.0" y2="346.6" stroke="#808000" stroke-width="1.5"/>
<text x="410.7" y="348.8" font-size="7.2" fill="#000" textLength="28.8" lengthAdjust="spacing">40 mV/s</text>
<line x1="392.0" y1="358.0" x2="409.0" y2="358.0" stroke="#000080" stroke-width="1.5"/>
<text x="410.7" y="360.2" font-size="7.2" fill="#000" textLength="28.8" lengthAdjust="spacing">50 mV/s</text>
<line x1="392.0" y1="369.3" x2="409.0" y2="369.3" stroke="#800000" stroke-width="1.5"/>
<text x="410.7" y="371.5" font-size="7.2" fill="#000" textLength="28.8" lengthAdjust="spacing">60 mV/s</text>
<line x1="443.6" y1="289.1" x2="461.0" y2="289.1" stroke="#ff0080" stroke-width="1.5"/>
<text x="462.9" y="291.3" font-size="7.2" fill="#000" textLength="28.8" lengthAdjust="spacing">80 mV/s</text>
<line x1="443.6" y1="300.4" x2="461.0" y2="300.4" stroke="#008000" stroke-width="1.5"/>
<text x="462.9" y="302.6" font-size="7.2" fill="#000" textLength="32.300000000000004" lengthAdjust="spacing">100 mV/s</text>
<line x1="443.6" y1="311.8" x2="461.0" y2="311.8" stroke="#2828a8" stroke-width="1.5"/>
<text x="462.9" y="314.0" font-size="7.2" fill="#000" textLength="32.300000000000004" lengthAdjust="spacing">120 mV/s</text>
<line x1="443.6" y1="323.6" x2="461.0" y2="323.6" stroke="#ff8000" stroke-width="1.5"/>
<text x="462.9" y="325.8" font-size="7.2" fill="#000" textLength="32.300000000000004" lengthAdjust="spacing">140 mV/s</text>
<line x1="443.6" y1="335.0" x2="461.0" y2="335.0" stroke="#800080" stroke-width="1.5"/>
<text x="462.9" y="337.2" font-size="7.2" fill="#000" textLength="32.300000000000004" lengthAdjust="spacing">160 mV/s</text>
<line x1="443.6" y1="346.6" x2="461.0" y2="346.6" stroke="#8000ff" stroke-width="1.5"/>
<text x="462.9" y="348.8" font-size="7.2" fill="#000" textLength="32.300000000000004" lengthAdjust="spacing">180 mV/s</text>
<line x1="443.6" y1="358.0" x2="461.0" y2="358.0" stroke="#000000" stroke-width="1.5"/>
<text x="462.9" y="360.2" font-size="7.2" fill="#000" textLength="32.300000000000004" lengthAdjust="spacing">200 mV/s</text>
</svg>
</body></html>
